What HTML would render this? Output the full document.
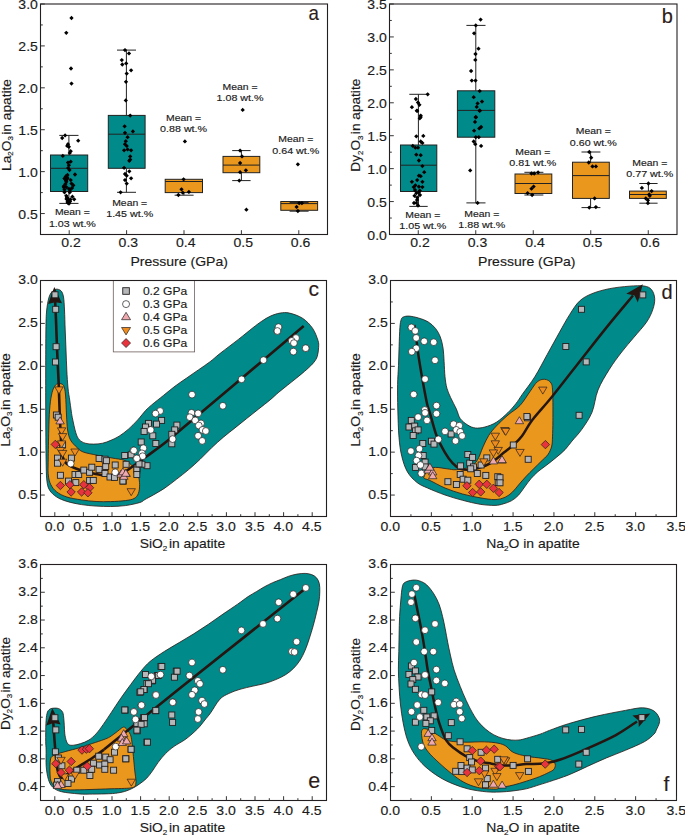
<!DOCTYPE html>
<html><head><meta charset="utf-8"><style>
html,body{margin:0;padding:0;background:#fff;}
svg{display:block;font-family:"Liberation Sans", sans-serif;}
text{stroke:#1a1a1a;stroke-width:0.15px;paint-order:stroke;}
</style></head><body>
<svg width="685" height="835" viewBox="0 0 685 835">
<rect width="685" height="835" fill="#fff"/>
<line x1="68.90" y1="135.40" x2="68.90" y2="155.00" stroke="#222" stroke-width="1"/>
<line x1="59.30" y1="135.40" x2="78.50" y2="135.40" stroke="#222" stroke-width="1"/>
<line x1="68.90" y1="191.50" x2="68.90" y2="203.40" stroke="#222" stroke-width="1"/>
<line x1="59.30" y1="203.40" x2="78.50" y2="203.40" stroke="#222" stroke-width="1"/>
<rect x="50.50" y="155.00" width="37.20" height="36.50" fill="#008a8a" stroke="#222" stroke-width="1"/>
<line x1="50.50" y1="168.30" x2="87.70" y2="168.30" stroke="#222" stroke-width="1"/>
<line x1="126.40" y1="50.10" x2="126.40" y2="115.40" stroke="#222" stroke-width="1"/>
<line x1="117.00" y1="50.10" x2="136.00" y2="50.10" stroke="#222" stroke-width="1"/>
<line x1="126.40" y1="168.30" x2="126.40" y2="192.30" stroke="#222" stroke-width="1"/>
<line x1="117.00" y1="192.30" x2="136.00" y2="192.30" stroke="#222" stroke-width="1"/>
<rect x="108.30" y="115.40" width="36.80" height="52.90" fill="#008a8a" stroke="#222" stroke-width="1"/>
<line x1="108.30" y1="134.20" x2="145.10" y2="134.20" stroke="#222" stroke-width="1"/>
<line x1="183.90" y1="192.60" x2="183.90" y2="195.20" stroke="#222" stroke-width="1"/>
<line x1="174.60" y1="195.20" x2="193.60" y2="195.20" stroke="#222" stroke-width="1"/>
<rect x="165.20" y="179.30" width="37.30" height="13.30" fill="#ea971d" stroke="#222" stroke-width="1"/>
<line x1="165.20" y1="181.50" x2="202.50" y2="181.50" stroke="#222" stroke-width="1"/>
<line x1="241.40" y1="150.60" x2="241.40" y2="156.40" stroke="#222" stroke-width="1"/>
<line x1="232.20" y1="150.60" x2="250.60" y2="150.60" stroke="#222" stroke-width="1"/>
<line x1="241.40" y1="172.70" x2="241.40" y2="180.60" stroke="#222" stroke-width="1"/>
<line x1="232.20" y1="180.60" x2="250.60" y2="180.60" stroke="#222" stroke-width="1"/>
<rect x="223.00" y="156.40" width="36.80" height="16.30" fill="#ea971d" stroke="#222" stroke-width="1"/>
<line x1="223.00" y1="165.10" x2="259.80" y2="165.10" stroke="#222" stroke-width="1"/>
<line x1="299.20" y1="210.30" x2="299.20" y2="211.20" stroke="#222" stroke-width="1"/>
<line x1="289.60" y1="211.20" x2="308.60" y2="211.20" stroke="#222" stroke-width="1"/>
<rect x="280.80" y="201.50" width="36.80" height="8.80" fill="#ea971d" stroke="#222" stroke-width="1"/>
<line x1="280.80" y1="203.60" x2="317.60" y2="203.60" stroke="#222" stroke-width="1"/>
<line x1="289.6" y1="202.6" x2="308.6" y2="202.6" stroke="#222" stroke-width="1"/>
<path d="M71.50 15.85L73.65 18.00L71.50 20.15L69.35 18.00Z" fill="#000"/>
<path d="M66.30 30.65L68.45 32.80L66.30 34.95L64.15 32.80Z" fill="#000"/>
<path d="M71.00 66.35L73.15 68.50L71.00 70.65L68.85 68.50Z" fill="#000"/>
<path d="M71.50 81.45L73.65 83.60L71.50 85.75L69.35 83.60Z" fill="#000"/>
<path d="M65.10 133.25L67.25 135.40L65.10 137.55L62.95 135.40Z" fill="#000"/>
<path d="M62.20 135.85L64.35 138.00L62.20 140.15L60.05 138.00Z" fill="#000"/>
<path d="M78.20 138.55L80.35 140.70L78.20 142.85L76.05 140.70Z" fill="#000"/>
<path d="M68.00 142.05L70.15 144.20L68.00 146.35L65.85 144.20Z" fill="#000"/>
<path d="M67.20 143.75L69.35 145.90L67.20 148.05L65.05 145.90Z" fill="#000"/>
<path d="M68.90 144.65L71.05 146.80L68.90 148.95L66.75 146.80Z" fill="#000"/>
<path d="M70.70 149.05L72.85 151.20L70.70 153.35L68.55 151.20Z" fill="#000"/>
<path d="M69.80 150.75L71.95 152.90L69.80 155.05L67.65 152.90Z" fill="#000"/>
<path d="M62.80 153.75L64.95 155.90L62.80 158.05L60.65 155.90Z" fill="#000"/>
<path d="M68.00 160.45L70.15 162.60L68.00 164.75L65.85 162.60Z" fill="#000"/>
<path d="M70.70 159.55L72.85 161.70L70.70 163.85L68.55 161.70Z" fill="#000"/>
<path d="M68.90 163.05L71.05 165.20L68.90 167.35L66.75 165.20Z" fill="#000"/>
<path d="M75.00 172.35L77.15 174.50L75.00 176.65L72.85 174.50Z" fill="#000"/>
<path d="M67.20 175.25L69.35 177.40L67.20 179.55L65.05 177.40Z" fill="#000"/>
<path d="M65.40 177.05L67.55 179.20L65.40 181.35L63.25 179.20Z" fill="#000"/>
<path d="M63.70 184.05L65.85 186.20L63.70 188.35L61.55 186.20Z" fill="#000"/>
<path d="M66.30 184.95L68.45 187.10L66.30 189.25L64.15 187.10Z" fill="#000"/>
<path d="M73.30 183.15L75.45 185.30L73.30 187.45L71.15 185.30Z" fill="#000"/>
<path d="M68.90 186.65L71.05 188.80L68.90 190.95L66.75 188.80Z" fill="#000"/>
<path d="M64.50 190.15L66.65 192.30L64.50 194.45L62.35 192.30Z" fill="#000"/>
<path d="M69.80 190.15L71.95 192.30L69.80 194.45L67.65 192.30Z" fill="#000"/>
<path d="M66.30 193.65L68.45 195.80L66.30 197.95L64.15 195.80Z" fill="#000"/>
<path d="M72.40 194.55L74.55 196.70L72.40 198.85L70.25 196.70Z" fill="#000"/>
<path d="M68.00 197.15L70.15 199.30L68.00 201.45L65.85 199.30Z" fill="#000"/>
<path d="M74.20 197.15L76.35 199.30L74.20 201.45L72.05 199.30Z" fill="#000"/>
<path d="M68.90 199.85L71.05 202.00L68.90 204.15L66.75 202.00Z" fill="#000"/>
<path d="M68.00 200.75L70.15 202.90L68.00 205.05L65.85 202.90Z" fill="#000"/>
<path d="M66.30 179.65L68.45 181.80L66.30 183.95L64.15 181.80Z" fill="#000"/>
<path d="M70.70 177.95L72.85 180.10L70.70 182.25L68.55 180.10Z" fill="#000"/>
<path d="M71.50 181.45L73.65 183.60L71.50 185.75L69.35 183.60Z" fill="#000"/>
<path d="M64.50 187.55L66.65 189.70L64.50 191.85L62.35 189.70Z" fill="#000"/>
<path d="M67.00 195.35L69.15 197.50L67.00 199.65L64.85 197.50Z" fill="#000"/>
<path d="M70.00 187.85L72.15 190.00L70.00 192.15L67.85 190.00Z" fill="#000"/>
<path d="M65.50 181.85L67.65 184.00L65.50 186.15L63.35 184.00Z" fill="#000"/>
<path d="M72.00 185.85L74.15 188.00L72.00 190.15L69.85 188.00Z" fill="#000"/>
<path d="M67.50 172.85L69.65 175.00L67.50 177.15L65.35 175.00Z" fill="#000"/>
<path d="M69.50 167.85L71.65 170.00L69.50 172.15L67.35 170.00Z" fill="#000"/>
<path d="M68.00 198.35L70.15 200.50L68.00 202.65L65.85 200.50Z" fill="#000"/>
<path d="M70.00 199.35L72.15 201.50L70.00 203.65L67.85 201.50Z" fill="#000"/>
<path d="M69.00 201.35L71.15 203.50L69.00 205.65L66.85 203.50Z" fill="#000"/>
<path d="M67.50 199.85L69.65 202.00L67.50 204.15L65.35 202.00Z" fill="#000"/>
<path d="M70.50 197.35L72.65 199.50L70.50 201.65L68.35 199.50Z" fill="#000"/>
<path d="M66.50 196.85L68.65 199.00L66.50 201.15L64.35 199.00Z" fill="#000"/>
<path d="M64.00 185.35L66.15 187.50L64.00 189.65L61.85 187.50Z" fill="#000"/>
<path d="M66.00 178.35L68.15 180.50L66.00 182.65L63.85 180.50Z" fill="#000"/>
<path d="M67.50 176.35L69.65 178.50L67.50 180.65L65.35 178.50Z" fill="#000"/>
<path d="M64.50 176.35L66.65 178.50L64.50 180.65L62.35 178.50Z" fill="#000"/>
<path d="M68.20 165.85L70.35 168.00L68.20 170.15L66.05 168.00Z" fill="#000"/>
<path d="M65.80 174.35L67.95 176.50L65.80 178.65L63.65 176.50Z" fill="#000"/>
<path d="M125.00 47.95L127.15 50.10L125.00 52.25L122.85 50.10Z" fill="#000"/>
<path d="M129.00 51.25L131.15 53.40L129.00 55.55L126.85 53.40Z" fill="#000"/>
<path d="M121.80 57.95L123.95 60.10L121.80 62.25L119.65 60.10Z" fill="#000"/>
<path d="M122.30 62.35L124.45 64.50L122.30 66.65L120.15 64.50Z" fill="#000"/>
<path d="M126.20 61.25L128.35 63.40L126.20 65.55L124.05 63.40Z" fill="#000"/>
<path d="M131.10 68.15L133.25 70.30L131.10 72.45L128.95 70.30Z" fill="#000"/>
<path d="M126.70 71.45L128.85 73.60L126.70 75.75L124.55 73.60Z" fill="#000"/>
<path d="M126.00 79.65L128.15 81.80L126.00 83.95L123.85 81.80Z" fill="#000"/>
<path d="M125.80 98.25L127.95 100.40L125.80 102.55L123.65 100.40Z" fill="#000"/>
<path d="M130.20 113.45L132.35 115.60L130.20 117.75L128.05 115.60Z" fill="#000"/>
<path d="M124.60 124.15L126.75 126.30L124.60 128.45L122.45 126.30Z" fill="#000"/>
<path d="M125.00 130.65L127.15 132.80L125.00 134.95L122.85 132.80Z" fill="#000"/>
<path d="M132.90 129.25L135.05 131.40L132.90 133.55L130.75 131.40Z" fill="#000"/>
<path d="M127.60 135.05L129.75 137.20L127.60 139.35L125.45 137.20Z" fill="#000"/>
<path d="M125.80 139.05L127.95 141.20L125.80 143.35L123.65 141.20Z" fill="#000"/>
<path d="M125.00 142.05L127.15 144.20L125.00 146.35L122.85 144.20Z" fill="#000"/>
<path d="M126.70 143.75L128.85 145.90L126.70 148.05L124.55 145.90Z" fill="#000"/>
<path d="M124.10 148.15L126.25 150.30L124.10 152.45L121.95 150.30Z" fill="#000"/>
<path d="M127.60 147.25L129.75 149.40L127.60 151.55L125.45 149.40Z" fill="#000"/>
<path d="M131.10 148.15L133.25 150.30L131.10 152.45L128.95 150.30Z" fill="#000"/>
<path d="M130.20 154.25L132.35 156.40L130.20 158.55L128.05 156.40Z" fill="#000"/>
<path d="M129.30 158.65L131.45 160.80L129.30 162.95L127.15 160.80Z" fill="#000"/>
<path d="M130.20 157.45L132.35 159.60L130.20 161.75L128.05 159.60Z" fill="#000"/>
<path d="M124.10 165.65L126.25 167.80L124.10 169.95L121.95 167.80Z" fill="#000"/>
<path d="M129.30 169.15L131.45 171.30L129.30 173.45L127.15 171.30Z" fill="#000"/>
<path d="M125.00 171.85L127.15 174.00L125.00 176.15L122.85 174.00Z" fill="#000"/>
<path d="M126.70 173.55L128.85 175.70L126.70 177.85L124.55 175.70Z" fill="#000"/>
<path d="M131.10 176.15L133.25 178.30L131.10 180.45L128.95 178.30Z" fill="#000"/>
<path d="M125.00 177.95L127.15 180.10L125.00 182.25L122.85 180.10Z" fill="#000"/>
<path d="M126.70 181.45L128.85 183.60L126.70 185.75L124.55 183.60Z" fill="#000"/>
<path d="M120.60 190.15L122.75 192.30L120.60 194.45L118.45 192.30Z" fill="#000"/>
<path d="M184.90 139.25L187.05 141.40L184.90 143.55L182.75 141.40Z" fill="#000"/>
<path d="M183.60 177.15L185.75 179.30L183.60 181.45L181.45 179.30Z" fill="#000"/>
<path d="M181.50 187.15L183.65 189.30L181.50 191.45L179.35 189.30Z" fill="#000"/>
<path d="M182.80 190.55L184.95 192.70L182.80 194.85L180.65 192.70Z" fill="#000"/>
<path d="M188.90 189.75L191.05 191.90L188.90 194.05L186.75 191.90Z" fill="#000"/>
<path d="M178.40 192.85L180.55 195.00L178.40 197.15L176.25 195.00Z" fill="#000"/>
<path d="M242.70 107.75L244.85 109.90L242.70 112.05L240.55 109.90Z" fill="#000"/>
<path d="M246.40 207.55L248.55 209.70L246.40 211.85L244.25 209.70Z" fill="#000"/>
<path d="M240.10 148.45L242.25 150.60L240.10 152.75L237.95 150.60Z" fill="#000"/>
<path d="M242.00 154.25L244.15 156.40L242.00 158.55L239.85 156.40Z" fill="#000"/>
<path d="M240.10 160.85L242.25 163.00L240.10 165.15L237.95 163.00Z" fill="#000"/>
<path d="M240.10 170.05L242.25 172.20L240.10 174.35L237.95 172.20Z" fill="#000"/>
<path d="M245.90 168.15L248.05 170.30L245.90 172.45L243.75 170.30Z" fill="#000"/>
<path d="M239.30 178.45L241.45 180.60L239.30 182.75L237.15 180.60Z" fill="#000"/>
<path d="M297.90 162.15L300.05 164.30L297.90 166.45L295.75 164.30Z" fill="#000"/>
<path d="M299.20 201.05L301.35 203.20L299.20 205.35L297.05 203.20Z" fill="#000"/>
<path d="M301.90 201.05L304.05 203.20L301.90 205.35L299.75 203.20Z" fill="#000"/>
<path d="M296.60 204.75L298.75 206.90L296.60 209.05L294.45 206.90Z" fill="#000"/>
<path d="M297.90 208.85L300.05 211.00L297.90 213.15L295.75 211.00Z" fill="#000"/>
<text x="72.40" y="215.40" font-size="9.3" text-anchor="middle" fill="#1a1a1a" textLength="35.0" lengthAdjust="spacingAndGlyphs" >Mean =</text>
<text x="72.40" y="226.80" font-size="9.3" text-anchor="middle" fill="#1a1a1a" textLength="47.0" lengthAdjust="spacingAndGlyphs" >1.03 wt.%</text>
<text x="129.70" y="205.60" font-size="9.3" text-anchor="middle" fill="#1a1a1a" textLength="35.0" lengthAdjust="spacingAndGlyphs" >Mean =</text>
<text x="129.70" y="217.00" font-size="9.3" text-anchor="middle" fill="#1a1a1a" textLength="47.0" lengthAdjust="spacingAndGlyphs" >1.45 wt.%</text>
<text x="183.60" y="121.10" font-size="9.3" text-anchor="middle" fill="#1a1a1a" textLength="35.0" lengthAdjust="spacingAndGlyphs" >Mean =</text>
<text x="183.60" y="132.10" font-size="9.3" text-anchor="middle" fill="#1a1a1a" textLength="47.0" lengthAdjust="spacingAndGlyphs" >0.88 wt.%</text>
<text x="240.00" y="90.10" font-size="9.3" text-anchor="middle" fill="#1a1a1a" textLength="35.0" lengthAdjust="spacingAndGlyphs" >Mean =</text>
<text x="240.00" y="101.40" font-size="9.3" text-anchor="middle" fill="#1a1a1a" textLength="47.0" lengthAdjust="spacingAndGlyphs" >1.08 wt.%</text>
<text x="295.80" y="142.10" font-size="9.3" text-anchor="middle" fill="#1a1a1a" textLength="35.0" lengthAdjust="spacingAndGlyphs" >Mean =</text>
<text x="295.80" y="153.70" font-size="9.3" text-anchor="middle" fill="#1a1a1a" textLength="47.0" lengthAdjust="spacingAndGlyphs" >0.64 wt.%</text>
<rect x="40.5" y="4.0" width="287.00" height="230.50" fill="none" stroke="#231f20" stroke-width="1.1"/>
<line x1="40.5" y1="213.55" x2="44.80" y2="213.55" stroke="#2a2a2a" stroke-width="0.95"/>
<text x="37.90" y="218.90" font-size="13" text-anchor="end" fill="#1a1a1a" textLength="19.52" lengthAdjust="spacingAndGlyphs" >0.5</text>
<line x1="40.5" y1="171.64" x2="44.80" y2="171.64" stroke="#2a2a2a" stroke-width="0.95"/>
<text x="37.90" y="176.99" font-size="13" text-anchor="end" fill="#1a1a1a" textLength="19.52" lengthAdjust="spacingAndGlyphs" >1.0</text>
<line x1="40.5" y1="129.73" x2="44.80" y2="129.73" stroke="#2a2a2a" stroke-width="0.95"/>
<text x="37.90" y="135.08" font-size="13" text-anchor="end" fill="#1a1a1a" textLength="19.52" lengthAdjust="spacingAndGlyphs" >1.5</text>
<line x1="40.5" y1="87.82" x2="44.80" y2="87.82" stroke="#2a2a2a" stroke-width="0.95"/>
<text x="37.90" y="93.17" font-size="13" text-anchor="end" fill="#1a1a1a" textLength="19.52" lengthAdjust="spacingAndGlyphs" >2.0</text>
<line x1="40.5" y1="45.91" x2="44.80" y2="45.91" stroke="#2a2a2a" stroke-width="0.95"/>
<text x="37.90" y="51.26" font-size="13" text-anchor="end" fill="#1a1a1a" textLength="19.52" lengthAdjust="spacingAndGlyphs" >2.5</text>
<line x1="40.5" y1="4.00" x2="44.80" y2="4.00" stroke="#2a2a2a" stroke-width="0.95"/>
<text x="37.90" y="9.35" font-size="13" text-anchor="end" fill="#1a1a1a" textLength="19.52" lengthAdjust="spacingAndGlyphs" >3.0</text>
<line x1="40.5" y1="192.59" x2="42.80" y2="192.59" stroke="#2a2a2a" stroke-width="0.95"/>
<line x1="40.5" y1="150.68" x2="42.80" y2="150.68" stroke="#2a2a2a" stroke-width="0.95"/>
<line x1="40.5" y1="108.77" x2="42.80" y2="108.77" stroke="#2a2a2a" stroke-width="0.95"/>
<line x1="40.5" y1="66.86" x2="42.80" y2="66.86" stroke="#2a2a2a" stroke-width="0.95"/>
<line x1="40.5" y1="24.95" x2="42.80" y2="24.95" stroke="#2a2a2a" stroke-width="0.95"/>
<line x1="69.20" y1="234.5" x2="69.20" y2="230.20" stroke="#2a2a2a" stroke-width="0.95"/>
<text x="71.00" y="247.30" font-size="13" text-anchor="middle" fill="#1a1a1a" textLength="19.52" lengthAdjust="spacingAndGlyphs" >0.2</text>
<line x1="126.60" y1="234.5" x2="126.60" y2="230.20" stroke="#2a2a2a" stroke-width="0.95"/>
<text x="128.40" y="247.30" font-size="13" text-anchor="middle" fill="#1a1a1a" textLength="19.52" lengthAdjust="spacingAndGlyphs" >0.3</text>
<line x1="184.00" y1="234.5" x2="184.00" y2="230.20" stroke="#2a2a2a" stroke-width="0.95"/>
<text x="185.80" y="247.30" font-size="13" text-anchor="middle" fill="#1a1a1a" textLength="19.52" lengthAdjust="spacingAndGlyphs" >0.4</text>
<line x1="241.40" y1="234.5" x2="241.40" y2="230.20" stroke="#2a2a2a" stroke-width="0.95"/>
<text x="243.20" y="247.30" font-size="13" text-anchor="middle" fill="#1a1a1a" textLength="19.52" lengthAdjust="spacingAndGlyphs" >0.5</text>
<line x1="298.80" y1="234.5" x2="298.80" y2="230.20" stroke="#2a2a2a" stroke-width="0.95"/>
<text x="300.60" y="247.30" font-size="13" text-anchor="middle" fill="#1a1a1a" textLength="19.52" lengthAdjust="spacingAndGlyphs" >0.6</text>
<text transform="translate(10.50,125.00) rotate(-90)" font-size="13" text-anchor="middle" fill="#1a1a1a" textLength="92" lengthAdjust="spacingAndGlyphs">La<tspan font-size="7.54" dy="2.6">2</tspan><tspan dy="-2.6">O</tspan><tspan font-size="7.54" dy="2.6">3</tspan><tspan dy="-2.6" dx="1.3">in apatite</tspan></text>
<text x="179.20" y="266.00" font-size="13" text-anchor="middle" fill="#1a1a1a" textLength="97.5" lengthAdjust="spacingAndGlyphs" >Pressure (GPa)</text>
<text x="313.80" y="20.20" font-size="21" text-anchor="middle" fill="#2e1c19" textLength="10.4" lengthAdjust="spacingAndGlyphs" >a</text>
<line x1="418.40" y1="94.30" x2="418.40" y2="145.00" stroke="#222" stroke-width="1"/>
<line x1="409.30" y1="94.30" x2="427.70" y2="94.30" stroke="#222" stroke-width="1"/>
<line x1="418.40" y1="191.50" x2="418.40" y2="206.40" stroke="#222" stroke-width="1"/>
<line x1="409.30" y1="206.40" x2="427.70" y2="206.40" stroke="#222" stroke-width="1"/>
<rect x="400.50" y="145.00" width="36.30" height="46.50" fill="#008a8a" stroke="#222" stroke-width="1"/>
<line x1="400.50" y1="165.20" x2="436.80" y2="165.20" stroke="#222" stroke-width="1"/>
<line x1="475.80" y1="25.40" x2="475.80" y2="90.80" stroke="#222" stroke-width="1"/>
<line x1="466.40" y1="25.40" x2="485.50" y2="25.40" stroke="#222" stroke-width="1"/>
<line x1="475.80" y1="137.20" x2="475.80" y2="202.90" stroke="#222" stroke-width="1"/>
<line x1="466.40" y1="202.90" x2="485.50" y2="202.90" stroke="#222" stroke-width="1"/>
<rect x="457.40" y="90.80" width="37.40" height="46.40" fill="#008a8a" stroke="#222" stroke-width="1"/>
<line x1="457.40" y1="110.40" x2="494.80" y2="110.40" stroke="#222" stroke-width="1"/>
<line x1="533.50" y1="172.30" x2="533.50" y2="174.00" stroke="#222" stroke-width="1"/>
<line x1="524.40" y1="172.30" x2="543.40" y2="172.30" stroke="#222" stroke-width="1"/>
<line x1="533.50" y1="193.50" x2="533.50" y2="195.00" stroke="#222" stroke-width="1"/>
<line x1="524.40" y1="195.00" x2="543.40" y2="195.00" stroke="#222" stroke-width="1"/>
<rect x="515.00" y="174.00" width="36.80" height="19.50" fill="#ea971d" stroke="#222" stroke-width="1"/>
<line x1="515.00" y1="183.50" x2="551.80" y2="183.50" stroke="#222" stroke-width="1"/>
<line x1="590.60" y1="152.00" x2="590.60" y2="162.20" stroke="#222" stroke-width="1"/>
<line x1="581.50" y1="152.00" x2="600.40" y2="152.00" stroke="#222" stroke-width="1"/>
<line x1="590.60" y1="198.40" x2="590.60" y2="207.60" stroke="#222" stroke-width="1"/>
<line x1="581.50" y1="207.60" x2="600.40" y2="207.60" stroke="#222" stroke-width="1"/>
<rect x="572.50" y="162.20" width="36.80" height="36.20" fill="#ea971d" stroke="#222" stroke-width="1"/>
<line x1="572.50" y1="175.60" x2="609.30" y2="175.60" stroke="#222" stroke-width="1"/>
<line x1="648.40" y1="183.50" x2="648.40" y2="191.10" stroke="#222" stroke-width="1"/>
<line x1="639.30" y1="183.50" x2="657.60" y2="183.50" stroke="#222" stroke-width="1"/>
<line x1="648.40" y1="198.40" x2="648.40" y2="203.20" stroke="#222" stroke-width="1"/>
<line x1="639.30" y1="203.20" x2="657.60" y2="203.20" stroke="#222" stroke-width="1"/>
<rect x="629.50" y="191.10" width="36.80" height="7.30" fill="#ea971d" stroke="#222" stroke-width="1"/>
<line x1="629.50" y1="194.50" x2="666.30" y2="194.50" stroke="#222" stroke-width="1"/>
<path d="M427.70 92.15L429.85 94.30L427.70 96.45L425.55 94.30Z" fill="#000"/>
<path d="M415.90 96.85L418.05 99.00L415.90 101.15L413.75 99.00Z" fill="#000"/>
<path d="M418.00 100.35L420.15 102.50L418.00 104.65L415.85 102.50Z" fill="#000"/>
<path d="M419.40 102.65L421.55 104.80L419.40 106.95L417.25 104.80Z" fill="#000"/>
<path d="M411.90 105.05L414.05 107.20L411.90 109.35L409.75 107.20Z" fill="#000"/>
<path d="M416.80 108.55L418.95 110.70L416.80 112.85L414.65 110.70Z" fill="#000"/>
<path d="M420.70 113.45L422.85 115.60L420.70 117.75L418.55 115.60Z" fill="#000"/>
<path d="M419.80 116.15L421.95 118.30L419.80 120.45L417.65 118.30Z" fill="#000"/>
<path d="M417.20 108.75L419.35 110.90L417.20 113.05L415.05 110.90Z" fill="#000"/>
<path d="M420.70 114.85L422.85 117.00L420.70 119.15L418.55 117.00Z" fill="#000"/>
<path d="M416.30 134.15L418.45 136.30L416.30 138.45L414.15 136.30Z" fill="#000"/>
<path d="M423.30 133.75L425.45 135.90L423.30 138.05L421.15 135.90Z" fill="#000"/>
<path d="M420.70 139.35L422.85 141.50L420.70 143.65L418.55 141.50Z" fill="#000"/>
<path d="M422.40 140.75L424.55 142.90L422.40 145.05L420.25 142.90Z" fill="#000"/>
<path d="M412.80 143.75L414.95 145.90L412.80 148.05L410.65 145.90Z" fill="#000"/>
<path d="M415.40 145.55L417.55 147.70L415.40 149.85L413.25 147.70Z" fill="#000"/>
<path d="M418.00 145.55L420.15 147.70L418.00 149.85L415.85 147.70Z" fill="#000"/>
<path d="M416.30 152.55L418.45 154.70L416.30 156.85L414.15 154.70Z" fill="#000"/>
<path d="M420.70 153.05L422.85 155.20L420.70 157.35L418.55 155.20Z" fill="#000"/>
<path d="M418.90 158.35L421.05 160.50L418.90 162.65L416.75 160.50Z" fill="#000"/>
<path d="M422.40 163.95L424.55 166.10L422.40 168.25L420.25 166.10Z" fill="#000"/>
<path d="M424.20 170.05L426.35 172.20L424.20 174.35L422.05 172.20Z" fill="#000"/>
<path d="M418.90 173.55L421.05 175.70L418.90 177.85L416.75 175.70Z" fill="#000"/>
<path d="M420.70 174.05L422.85 176.20L420.70 178.35L418.55 176.20Z" fill="#000"/>
<path d="M417.20 177.95L419.35 180.10L417.20 182.25L415.05 180.10Z" fill="#000"/>
<path d="M411.90 179.65L414.05 181.80L411.90 183.95L409.75 181.80Z" fill="#000"/>
<path d="M422.40 179.65L424.55 181.80L422.40 183.95L420.25 181.80Z" fill="#000"/>
<path d="M415.40 183.15L417.55 185.30L415.40 187.45L413.25 185.30Z" fill="#000"/>
<path d="M418.90 184.55L421.05 186.70L418.90 188.85L416.75 186.70Z" fill="#000"/>
<path d="M422.40 184.95L424.55 187.10L422.40 189.25L420.25 187.10Z" fill="#000"/>
<path d="M413.70 184.95L415.85 187.10L413.70 189.25L411.55 187.10Z" fill="#000"/>
<path d="M416.30 191.05L418.45 193.20L416.30 195.35L414.15 193.20Z" fill="#000"/>
<path d="M418.90 190.15L421.05 192.30L418.90 194.45L416.75 192.30Z" fill="#000"/>
<path d="M414.50 193.65L416.65 195.80L414.50 197.95L412.35 195.80Z" fill="#000"/>
<path d="M417.20 195.45L419.35 197.60L417.20 199.75L415.05 197.60Z" fill="#000"/>
<path d="M416.30 200.75L418.45 202.90L416.30 205.05L414.15 202.90Z" fill="#000"/>
<path d="M418.00 203.35L420.15 205.50L418.00 207.65L415.85 205.50Z" fill="#000"/>
<path d="M419.80 188.45L421.95 190.60L419.80 192.75L417.65 190.60Z" fill="#000"/>
<path d="M415.00 187.85L417.15 190.00L415.00 192.15L412.85 190.00Z" fill="#000"/>
<path d="M420.00 192.85L422.15 195.00L420.00 197.15L417.85 195.00Z" fill="#000"/>
<path d="M417.00 197.85L419.15 200.00L417.00 202.15L414.85 200.00Z" fill="#000"/>
<path d="M414.00 200.85L416.15 203.00L414.00 205.15L411.85 203.00Z" fill="#000"/>
<path d="M480.60 17.45L482.75 19.60L480.60 21.75L478.45 19.60Z" fill="#000"/>
<path d="M475.80 23.25L477.95 25.40L475.80 27.55L473.65 25.40Z" fill="#000"/>
<path d="M474.10 31.15L476.25 33.30L474.10 35.45L471.95 33.30Z" fill="#000"/>
<path d="M478.50 46.55L480.65 48.70L478.50 50.85L476.35 48.70Z" fill="#000"/>
<path d="M475.50 51.85L477.65 54.00L475.50 56.15L473.35 54.00Z" fill="#000"/>
<path d="M475.30 57.75L477.45 59.90L475.30 62.05L473.15 59.90Z" fill="#000"/>
<path d="M471.10 68.85L473.25 71.00L471.10 73.15L468.95 71.00Z" fill="#000"/>
<path d="M471.80 78.45L473.95 80.60L471.80 82.75L469.65 80.60Z" fill="#000"/>
<path d="M475.50 78.45L477.65 80.60L475.50 82.75L473.35 80.60Z" fill="#000"/>
<path d="M479.70 88.95L481.85 91.10L479.70 93.25L477.55 91.10Z" fill="#000"/>
<path d="M473.70 95.05L475.85 97.20L473.70 99.35L471.55 97.20Z" fill="#000"/>
<path d="M482.00 99.45L484.15 101.60L482.00 103.75L479.85 101.60Z" fill="#000"/>
<path d="M477.60 101.25L479.75 103.40L477.60 105.55L475.45 103.40Z" fill="#000"/>
<path d="M476.70 104.75L478.85 106.90L476.70 109.05L474.55 106.90Z" fill="#000"/>
<path d="M479.70 108.25L481.85 110.40L479.70 112.55L477.55 110.40Z" fill="#000"/>
<path d="M475.80 114.85L477.95 117.00L475.80 119.15L473.65 117.00Z" fill="#000"/>
<path d="M479.70 108.75L481.85 110.90L479.70 113.05L477.55 110.90Z" fill="#000"/>
<path d="M475.80 115.25L477.95 117.40L475.80 119.55L473.65 117.40Z" fill="#000"/>
<path d="M475.00 119.75L477.15 121.90L475.00 124.05L472.85 121.90Z" fill="#000"/>
<path d="M474.10 128.55L476.25 130.70L474.10 132.85L471.95 130.70Z" fill="#000"/>
<path d="M479.30 126.25L481.45 128.40L479.30 130.55L477.15 128.40Z" fill="#000"/>
<path d="M481.10 124.85L483.25 127.00L481.10 129.15L478.95 127.00Z" fill="#000"/>
<path d="M475.80 135.05L477.95 137.20L475.80 139.35L473.65 137.20Z" fill="#000"/>
<path d="M478.80 135.05L480.95 137.20L478.80 139.35L476.65 137.20Z" fill="#000"/>
<path d="M473.70 139.35L475.85 141.50L473.70 143.65L471.55 141.50Z" fill="#000"/>
<path d="M475.30 142.05L477.45 144.20L475.30 146.35L473.15 144.20Z" fill="#000"/>
<path d="M481.10 143.75L483.25 145.90L481.10 148.05L478.95 145.90Z" fill="#000"/>
<path d="M470.20 168.25L472.35 170.40L470.20 172.55L468.05 170.40Z" fill="#000"/>
<path d="M477.60 200.75L479.75 202.90L477.60 205.05L475.45 202.90Z" fill="#000"/>
<path d="M531.50 171.35L533.65 173.50L531.50 175.65L529.35 173.50Z" fill="#000"/>
<path d="M534.20 171.35L536.35 173.50L534.20 175.65L532.05 173.50Z" fill="#000"/>
<path d="M538.10 170.25L540.25 172.40L538.10 174.55L535.95 172.40Z" fill="#000"/>
<path d="M533.60 184.45L535.75 186.60L533.60 188.75L531.45 186.60Z" fill="#000"/>
<path d="M531.50 186.55L533.65 188.70L531.50 190.85L529.35 188.70Z" fill="#000"/>
<path d="M527.60 191.05L529.75 193.20L527.60 195.35L525.45 193.20Z" fill="#000"/>
<path d="M532.10 192.85L534.25 195.00L532.10 197.15L529.95 195.00Z" fill="#000"/>
<path d="M589.30 149.85L591.45 152.00L589.30 154.15L587.15 152.00Z" fill="#000"/>
<path d="M591.20 155.55L593.35 157.70L591.20 159.85L589.05 157.70Z" fill="#000"/>
<path d="M588.80 160.35L590.95 162.50L588.80 164.65L586.65 162.50Z" fill="#000"/>
<path d="M592.50 164.25L594.65 166.40L592.50 168.55L590.35 166.40Z" fill="#000"/>
<path d="M595.90 164.25L598.05 166.40L595.90 168.55L593.75 166.40Z" fill="#000"/>
<path d="M594.60 196.25L596.75 198.40L594.60 200.55L592.45 198.40Z" fill="#000"/>
<path d="M589.30 205.45L591.45 207.60L589.30 209.75L587.15 207.60Z" fill="#000"/>
<path d="M595.90 204.95L598.05 207.10L595.90 209.25L593.75 207.10Z" fill="#000"/>
<path d="M648.40 181.35L650.55 183.50L648.40 185.65L646.25 183.50Z" fill="#000"/>
<path d="M641.90 185.75L644.05 187.90L641.90 190.05L639.75 187.90Z" fill="#000"/>
<path d="M651.60 188.95L653.75 191.10L651.60 193.25L649.45 191.10Z" fill="#000"/>
<path d="M649.20 192.35L651.35 194.50L649.20 196.65L647.05 194.50Z" fill="#000"/>
<path d="M645.80 196.25L647.95 198.40L645.80 200.55L643.65 198.40Z" fill="#000"/>
<path d="M647.90 198.15L650.05 200.30L647.90 202.45L645.75 200.30Z" fill="#000"/>
<path d="M647.90 201.05L650.05 203.20L647.90 205.35L645.75 203.20Z" fill="#000"/>
<path d="M649.80 193.65L651.95 195.80L649.80 197.95L647.65 195.80Z" fill="#000"/>
<text x="422.80" y="218.10" font-size="9.3" text-anchor="middle" fill="#1a1a1a" textLength="35.0" lengthAdjust="spacingAndGlyphs" >Mean =</text>
<text x="422.80" y="228.90" font-size="9.3" text-anchor="middle" fill="#1a1a1a" textLength="47.0" lengthAdjust="spacingAndGlyphs" >1.05 wt.%</text>
<text x="481.80" y="217.30" font-size="9.3" text-anchor="middle" fill="#1a1a1a" textLength="35.0" lengthAdjust="spacingAndGlyphs" >Mean =</text>
<text x="481.80" y="228.30" font-size="9.3" text-anchor="middle" fill="#1a1a1a" textLength="47.0" lengthAdjust="spacingAndGlyphs" >1.88 wt.%</text>
<text x="532.80" y="154.50" font-size="9.3" text-anchor="middle" fill="#1a1a1a" textLength="35.0" lengthAdjust="spacingAndGlyphs" >Mean =</text>
<text x="532.80" y="166.30" font-size="9.3" text-anchor="middle" fill="#1a1a1a" textLength="47.0" lengthAdjust="spacingAndGlyphs" >0.81 wt.%</text>
<text x="593.30" y="134.20" font-size="9.3" text-anchor="middle" fill="#1a1a1a" textLength="35.0" lengthAdjust="spacingAndGlyphs" >Mean =</text>
<text x="593.30" y="145.80" font-size="9.3" text-anchor="middle" fill="#1a1a1a" textLength="47.0" lengthAdjust="spacingAndGlyphs" >0.60 wt.%</text>
<text x="649.80" y="165.80" font-size="9.3" text-anchor="middle" fill="#1a1a1a" textLength="35.0" lengthAdjust="spacingAndGlyphs" >Mean =</text>
<text x="649.80" y="176.80" font-size="9.3" text-anchor="middle" fill="#1a1a1a" textLength="47.0" lengthAdjust="spacingAndGlyphs" >0.77 wt.%</text>
<rect x="389.5" y="4.0" width="287.50" height="230.50" fill="none" stroke="#231f20" stroke-width="1.1"/>
<line x1="389.5" y1="234.50" x2="393.80" y2="234.50" stroke="#2a2a2a" stroke-width="0.95"/>
<text x="386.90" y="239.85" font-size="13" text-anchor="end" fill="#1a1a1a" textLength="19.52" lengthAdjust="spacingAndGlyphs" >0.0</text>
<line x1="389.5" y1="201.57" x2="393.80" y2="201.57" stroke="#2a2a2a" stroke-width="0.95"/>
<text x="386.90" y="206.92" font-size="13" text-anchor="end" fill="#1a1a1a" textLength="19.52" lengthAdjust="spacingAndGlyphs" >0.5</text>
<line x1="389.5" y1="168.64" x2="393.80" y2="168.64" stroke="#2a2a2a" stroke-width="0.95"/>
<text x="386.90" y="173.99" font-size="13" text-anchor="end" fill="#1a1a1a" textLength="19.52" lengthAdjust="spacingAndGlyphs" >1.0</text>
<line x1="389.5" y1="135.71" x2="393.80" y2="135.71" stroke="#2a2a2a" stroke-width="0.95"/>
<text x="386.90" y="141.06" font-size="13" text-anchor="end" fill="#1a1a1a" textLength="19.52" lengthAdjust="spacingAndGlyphs" >1.5</text>
<line x1="389.5" y1="102.79" x2="393.80" y2="102.79" stroke="#2a2a2a" stroke-width="0.95"/>
<text x="386.90" y="108.14" font-size="13" text-anchor="end" fill="#1a1a1a" textLength="19.52" lengthAdjust="spacingAndGlyphs" >2.0</text>
<line x1="389.5" y1="69.86" x2="393.80" y2="69.86" stroke="#2a2a2a" stroke-width="0.95"/>
<text x="386.90" y="75.21" font-size="13" text-anchor="end" fill="#1a1a1a" textLength="19.52" lengthAdjust="spacingAndGlyphs" >2.5</text>
<line x1="389.5" y1="36.93" x2="393.80" y2="36.93" stroke="#2a2a2a" stroke-width="0.95"/>
<text x="386.90" y="42.28" font-size="13" text-anchor="end" fill="#1a1a1a" textLength="19.52" lengthAdjust="spacingAndGlyphs" >3.0</text>
<line x1="389.5" y1="4.00" x2="393.80" y2="4.00" stroke="#2a2a2a" stroke-width="0.95"/>
<text x="386.90" y="9.35" font-size="13" text-anchor="end" fill="#1a1a1a" textLength="19.52" lengthAdjust="spacingAndGlyphs" >3.5</text>
<line x1="389.5" y1="218.04" x2="391.80" y2="218.04" stroke="#2a2a2a" stroke-width="0.95"/>
<line x1="389.5" y1="185.11" x2="391.80" y2="185.11" stroke="#2a2a2a" stroke-width="0.95"/>
<line x1="389.5" y1="152.18" x2="391.80" y2="152.18" stroke="#2a2a2a" stroke-width="0.95"/>
<line x1="389.5" y1="119.25" x2="391.80" y2="119.25" stroke="#2a2a2a" stroke-width="0.95"/>
<line x1="389.5" y1="86.32" x2="391.80" y2="86.32" stroke="#2a2a2a" stroke-width="0.95"/>
<line x1="389.5" y1="53.39" x2="391.80" y2="53.39" stroke="#2a2a2a" stroke-width="0.95"/>
<line x1="389.5" y1="20.46" x2="391.80" y2="20.46" stroke="#2a2a2a" stroke-width="0.95"/>
<line x1="418.25" y1="234.5" x2="418.25" y2="230.20" stroke="#2a2a2a" stroke-width="0.95"/>
<text x="420.05" y="247.30" font-size="13" text-anchor="middle" fill="#1a1a1a" textLength="19.52" lengthAdjust="spacingAndGlyphs" >0.2</text>
<line x1="475.75" y1="234.5" x2="475.75" y2="230.20" stroke="#2a2a2a" stroke-width="0.95"/>
<text x="477.55" y="247.30" font-size="13" text-anchor="middle" fill="#1a1a1a" textLength="19.52" lengthAdjust="spacingAndGlyphs" >0.3</text>
<line x1="533.25" y1="234.5" x2="533.25" y2="230.20" stroke="#2a2a2a" stroke-width="0.95"/>
<text x="535.05" y="247.30" font-size="13" text-anchor="middle" fill="#1a1a1a" textLength="19.52" lengthAdjust="spacingAndGlyphs" >0.4</text>
<line x1="590.75" y1="234.5" x2="590.75" y2="230.20" stroke="#2a2a2a" stroke-width="0.95"/>
<text x="592.55" y="247.30" font-size="13" text-anchor="middle" fill="#1a1a1a" textLength="19.52" lengthAdjust="spacingAndGlyphs" >0.5</text>
<line x1="648.25" y1="234.5" x2="648.25" y2="230.20" stroke="#2a2a2a" stroke-width="0.95"/>
<text x="650.05" y="247.30" font-size="13" text-anchor="middle" fill="#1a1a1a" textLength="19.52" lengthAdjust="spacingAndGlyphs" >0.6</text>
<text transform="translate(360.30,125.20) rotate(-90)" font-size="13" text-anchor="middle" fill="#1a1a1a" textLength="93" lengthAdjust="spacingAndGlyphs">Dy<tspan font-size="7.54" dy="2.6">2</tspan><tspan dy="-2.6">O</tspan><tspan font-size="7.54" dy="2.6">3</tspan><tspan dy="-2.6" dx="1.3">in apatite</tspan></text>
<text x="526.80" y="266.00" font-size="13" text-anchor="middle" fill="#1a1a1a" textLength="97.5" lengthAdjust="spacingAndGlyphs" >Pressure (GPa)</text>
<text x="667.20" y="23.20" font-size="20" text-anchor="middle" fill="#2e1c19" >b</text>
<path d="M56.00,289.20 C57.53,289.00 59.75,289.50 61.00,290.80 C62.25,292.10 62.92,293.80 63.50,297.00 C64.08,300.20 64.22,304.50 64.50,310.00 C64.78,315.50 64.95,323.33 65.20,330.00 C65.45,336.67 65.73,343.33 66.00,350.00 C66.27,356.67 66.47,363.67 66.80,370.00 C67.13,376.33 67.52,383.00 68.00,388.00 C68.48,393.00 69.18,396.33 69.70,400.00 C70.22,403.67 70.67,407.08 71.10,410.00 C71.53,412.92 71.52,413.72 72.30,417.50 C73.08,421.28 74.63,429.00 75.80,432.70 C76.97,436.40 77.73,437.95 79.30,439.70 C80.87,441.45 82.85,442.47 85.20,443.20 C87.55,443.93 90.48,444.10 93.40,444.10 C96.32,444.10 99.78,443.83 102.70,443.20 C105.62,442.57 108.17,441.47 110.90,440.30 C113.63,439.13 116.18,438.05 119.10,436.20 C122.02,434.35 125.30,431.92 128.40,429.20 C131.50,426.48 134.80,423.05 137.70,419.90 C140.60,416.75 143.47,412.80 145.80,410.30 C148.13,407.80 148.77,407.37 151.70,404.90 C154.63,402.43 159.52,398.62 163.40,395.50 C167.28,392.38 171.12,389.12 175.00,386.20 C178.88,383.28 182.80,380.72 186.70,378.00 C190.60,375.28 194.50,372.62 198.40,369.90 C202.30,367.18 206.50,364.43 210.10,361.70 C213.70,358.97 215.28,357.22 220.00,353.50 C224.72,349.78 232.90,343.70 238.40,339.40 C243.90,335.10 249.10,330.73 253.00,327.70 C256.90,324.67 258.88,323.13 261.80,321.20 C264.72,319.27 267.47,317.45 270.50,316.10 C273.53,314.75 276.83,313.60 280.00,313.10 C283.17,312.60 285.73,312.23 289.50,313.10 C293.27,313.97 298.77,315.78 302.60,318.30 C306.43,320.82 309.93,324.50 312.50,328.20 C315.07,331.90 316.98,337.28 318.00,340.50 C319.02,343.72 318.72,344.87 318.60,347.50 C318.48,350.13 318.10,353.82 317.30,356.30 C316.50,358.78 315.55,360.22 313.80,362.40 C312.05,364.58 309.72,366.77 306.80,369.40 C303.88,372.03 299.52,375.57 296.30,378.20 C293.08,380.83 290.42,382.87 287.50,385.20 C284.58,387.53 281.70,389.75 278.80,392.20 C275.90,394.65 273.50,397.07 270.10,399.90 C266.70,402.73 262.30,406.10 258.40,409.20 C254.50,412.30 250.60,415.38 246.70,418.50 C242.80,421.62 238.88,424.78 235.00,427.90 C231.12,431.02 227.28,433.90 223.40,437.20 C219.52,440.50 215.58,444.02 211.70,447.70 C207.82,451.38 203.98,455.62 200.10,459.30 C196.22,462.98 192.30,466.50 188.40,469.80 C184.50,473.10 180.60,476.08 176.70,479.10 C172.80,482.12 168.88,485.27 165.00,487.90 C161.12,490.53 156.73,492.97 153.40,494.90 C150.07,496.83 147.25,498.23 145.00,499.50 C142.75,500.77 143.18,501.48 139.90,502.50 C136.62,503.52 130.17,504.93 125.30,505.60 C120.43,506.27 115.57,506.42 110.70,506.50 C105.83,506.58 100.97,506.42 96.10,506.10 C91.23,505.78 86.37,505.38 81.50,504.60 C76.63,503.82 71.03,502.67 66.90,501.40 C62.77,500.13 59.60,498.90 56.70,497.00 C53.80,495.10 51.15,492.83 49.50,490.00 C47.85,487.17 47.37,485.00 46.80,480.00 C46.23,475.00 46.27,468.33 46.10,460.00 C45.93,451.67 45.87,440.00 45.80,430.00 C45.73,420.00 45.72,410.00 45.70,400.00 C45.68,390.00 45.67,381.67 45.70,370.00 C45.73,358.33 45.75,339.83 45.90,330.00 C46.05,320.17 46.12,316.33 46.60,311.00 C47.08,305.67 47.93,301.17 48.80,298.00 C49.67,294.83 50.60,293.47 51.80,292.00 C53.00,290.53 54.47,289.40 56.00,289.20Z" fill="#008a8a" stroke="#2a1a17" stroke-width="0.8"/>
<path d="M58.50,383.50 C60.00,383.33 62.33,383.58 63.50,385.50 C64.67,387.42 65.00,390.08 65.50,395.00 C66.00,399.92 66.15,409.17 66.50,415.00 C66.85,420.83 66.93,425.83 67.60,430.00 C68.27,434.17 68.93,437.08 70.50,440.00 C72.07,442.92 74.88,445.50 77.00,447.50 C79.12,449.50 79.77,450.70 83.20,452.00 C86.63,453.30 92.80,454.30 97.60,455.30 C102.40,456.30 107.60,457.18 112.00,458.00 C116.40,458.82 120.83,459.12 124.00,460.20 C127.17,461.28 129.03,462.78 131.00,464.50 C132.97,466.22 134.57,468.62 135.80,470.50 C137.03,472.38 137.77,473.45 138.40,475.80 C139.03,478.15 139.60,481.67 139.60,484.60 C139.60,487.53 139.32,491.08 138.40,493.40 C137.48,495.72 136.28,497.30 134.10,498.50 C131.92,499.70 129.20,500.08 125.30,500.60 C121.40,501.12 115.57,501.45 110.70,501.60 C105.83,501.75 100.97,501.78 96.10,501.50 C91.23,501.22 86.37,500.65 81.50,499.90 C76.63,499.15 71.03,498.33 66.90,497.00 C62.77,495.67 59.38,493.97 56.70,491.90 C54.02,489.83 52.20,487.42 50.80,484.60 C49.40,481.78 48.73,479.10 48.30,475.00 C47.87,470.90 48.12,467.50 48.20,460.00 C48.28,452.50 48.57,438.33 48.80,430.00 C49.03,421.67 49.15,415.83 49.60,410.00 C50.05,404.17 50.68,398.92 51.50,395.00 C52.32,391.08 53.33,388.42 54.50,386.50 C55.67,384.58 57.00,383.67 58.50,383.50Z" fill="#ea971d" stroke="#2a1a17" stroke-width="0.8"/>
<path d="M55.10,300.00 C55.25,303.33 55.67,311.67 56.00,320.00 C56.33,328.33 56.65,339.40 57.10,350.00 C57.55,360.60 58.28,373.60 58.70,383.60 C59.12,393.60 59.22,400.60 59.60,410.00 C59.98,419.40 60.53,432.33 61.00,440.00 C61.47,447.67 61.48,452.08 62.40,456.00 C63.32,459.92 64.15,461.37 66.50,463.50 C68.85,465.63 72.88,467.33 76.50,468.80 C80.12,470.27 84.07,471.27 88.20,472.30 C92.33,473.33 97.33,474.50 101.30,475.00 C105.27,475.50 108.58,475.55 112.00,475.30 C115.42,475.05 118.72,474.72 121.80,473.50 C124.88,472.28 126.22,470.95 130.50,468.00 C134.78,465.05 141.17,460.47 147.50,455.80 C153.83,451.13 159.75,447.07 168.50,440.00 C177.25,432.93 184.22,426.70 200.00,413.40 C215.78,400.10 245.92,374.77 263.20,360.20 C280.48,345.63 296.95,331.70 303.70,326.00" fill="none" stroke="#261611" stroke-width="2.6" stroke-linejoin="round"/>
<path d="M54.30,287.10 L62.00,303.20 L55.10,302.20 L48.10,304.00Z" fill="#261611"/>
<rect x="52.00" y="291.80" width="6.0" height="6.0" fill="#b5b7b9" stroke="#231f20" stroke-width="0.9"/>
<rect x="52.70" y="306.30" width="6.0" height="6.0" fill="#b5b7b9" stroke="#231f20" stroke-width="0.9"/>
<rect x="53.10" y="343.70" width="6.0" height="6.0" fill="#b5b7b9" stroke="#231f20" stroke-width="0.9"/>
<rect x="52.50" y="359.00" width="6.0" height="6.0" fill="#b5b7b9" stroke="#231f20" stroke-width="0.9"/>
<rect x="53.40" y="412.00" width="6.0" height="6.0" fill="#b5b7b9" stroke="#231f20" stroke-width="0.9"/>
<rect x="55.20" y="414.20" width="6.0" height="6.0" fill="#b5b7b9" stroke="#231f20" stroke-width="0.9"/>
<rect x="59.60" y="442.00" width="6.0" height="6.0" fill="#b5b7b9" stroke="#231f20" stroke-width="0.9"/>
<rect x="54.50" y="455.10" width="6.0" height="6.0" fill="#b5b7b9" stroke="#231f20" stroke-width="0.9"/>
<rect x="54.50" y="460.20" width="6.0" height="6.0" fill="#b5b7b9" stroke="#231f20" stroke-width="0.9"/>
<rect x="68.40" y="455.10" width="6.0" height="6.0" fill="#b5b7b9" stroke="#231f20" stroke-width="0.9"/>
<rect x="57.40" y="472.30" width="6.0" height="6.0" fill="#b5b7b9" stroke="#231f20" stroke-width="0.9"/>
<rect x="72.00" y="471.50" width="6.0" height="6.0" fill="#b5b7b9" stroke="#231f20" stroke-width="0.9"/>
<rect x="75.70" y="471.50" width="6.0" height="6.0" fill="#b5b7b9" stroke="#231f20" stroke-width="0.9"/>
<rect x="80.80" y="467.10" width="6.0" height="6.0" fill="#b5b7b9" stroke="#231f20" stroke-width="0.9"/>
<rect x="86.60" y="469.30" width="6.0" height="6.0" fill="#b5b7b9" stroke="#231f20" stroke-width="0.9"/>
<rect x="88.80" y="464.20" width="6.0" height="6.0" fill="#b5b7b9" stroke="#231f20" stroke-width="0.9"/>
<rect x="96.10" y="466.40" width="6.0" height="6.0" fill="#b5b7b9" stroke="#231f20" stroke-width="0.9"/>
<rect x="102.70" y="463.50" width="6.0" height="6.0" fill="#b5b7b9" stroke="#231f20" stroke-width="0.9"/>
<rect x="102.00" y="470.50" width="6.0" height="6.0" fill="#b5b7b9" stroke="#231f20" stroke-width="0.9"/>
<rect x="96.10" y="455.50" width="6.0" height="6.0" fill="#b5b7b9" stroke="#231f20" stroke-width="0.9"/>
<rect x="102.00" y="456.20" width="6.0" height="6.0" fill="#b5b7b9" stroke="#231f20" stroke-width="0.9"/>
<rect x="103.40" y="457.70" width="6.0" height="6.0" fill="#b5b7b9" stroke="#231f20" stroke-width="0.9"/>
<rect x="112.20" y="462.00" width="6.0" height="6.0" fill="#b5b7b9" stroke="#231f20" stroke-width="0.9"/>
<rect x="107.00" y="474.00" width="6.0" height="6.0" fill="#b5b7b9" stroke="#231f20" stroke-width="0.9"/>
<rect x="111.50" y="474.40" width="6.0" height="6.0" fill="#b5b7b9" stroke="#231f20" stroke-width="0.9"/>
<rect x="121.70" y="452.50" width="6.0" height="6.0" fill="#b5b7b9" stroke="#231f20" stroke-width="0.9"/>
<rect x="128.20" y="451.80" width="6.0" height="6.0" fill="#b5b7b9" stroke="#231f20" stroke-width="0.9"/>
<rect x="123.10" y="461.30" width="6.0" height="6.0" fill="#b5b7b9" stroke="#231f20" stroke-width="0.9"/>
<rect x="120.20" y="478.10" width="6.0" height="6.0" fill="#b5b7b9" stroke="#231f20" stroke-width="0.9"/>
<rect x="86.60" y="477.40" width="6.0" height="6.0" fill="#b5b7b9" stroke="#231f20" stroke-width="0.9"/>
<rect x="90.30" y="477.40" width="6.0" height="6.0" fill="#b5b7b9" stroke="#231f20" stroke-width="0.9"/>
<rect x="72.80" y="479.60" width="6.0" height="6.0" fill="#b5b7b9" stroke="#231f20" stroke-width="0.9"/>
<rect x="65.50" y="478.10" width="6.0" height="6.0" fill="#b5b7b9" stroke="#231f20" stroke-width="0.9"/>
<rect x="134.10" y="465.00" width="6.0" height="6.0" fill="#b5b7b9" stroke="#231f20" stroke-width="0.9"/>
<rect x="158.60" y="417.40" width="6.0" height="6.0" fill="#b5b7b9" stroke="#231f20" stroke-width="0.9"/>
<rect x="145.50" y="420.40" width="6.0" height="6.0" fill="#b5b7b9" stroke="#231f20" stroke-width="0.9"/>
<rect x="153.50" y="421.10" width="6.0" height="6.0" fill="#b5b7b9" stroke="#231f20" stroke-width="0.9"/>
<rect x="142.50" y="424.00" width="6.0" height="6.0" fill="#b5b7b9" stroke="#231f20" stroke-width="0.9"/>
<rect x="141.10" y="428.40" width="6.0" height="6.0" fill="#b5b7b9" stroke="#231f20" stroke-width="0.9"/>
<rect x="149.80" y="432.80" width="6.0" height="6.0" fill="#b5b7b9" stroke="#231f20" stroke-width="0.9"/>
<rect x="152.80" y="440.50" width="6.0" height="6.0" fill="#b5b7b9" stroke="#231f20" stroke-width="0.9"/>
<rect x="138.20" y="439.00" width="6.0" height="6.0" fill="#b5b7b9" stroke="#231f20" stroke-width="0.9"/>
<rect x="173.90" y="422.10" width="6.0" height="6.0" fill="#b5b7b9" stroke="#231f20" stroke-width="0.9"/>
<rect x="171.70" y="426.90" width="6.0" height="6.0" fill="#b5b7b9" stroke="#231f20" stroke-width="0.9"/>
<rect x="168.80" y="431.30" width="6.0" height="6.0" fill="#b5b7b9" stroke="#231f20" stroke-width="0.9"/>
<rect x="168.80" y="440.80" width="6.0" height="6.0" fill="#b5b7b9" stroke="#231f20" stroke-width="0.9"/>
<rect x="133.80" y="467.00" width="6.0" height="6.0" fill="#b5b7b9" stroke="#231f20" stroke-width="0.9"/>
<rect x="133.80" y="471.50" width="6.0" height="6.0" fill="#b5b7b9" stroke="#231f20" stroke-width="0.9"/>
<rect x="144.00" y="462.70" width="6.0" height="6.0" fill="#b5b7b9" stroke="#231f20" stroke-width="0.9"/>
<rect x="138.90" y="461.20" width="6.0" height="6.0" fill="#b5b7b9" stroke="#231f20" stroke-width="0.9"/>
<rect x="136.00" y="460.90" width="6.0" height="6.0" fill="#b5b7b9" stroke="#231f20" stroke-width="0.9"/>
<rect x="119.90" y="478.00" width="6.0" height="6.0" fill="#b5b7b9" stroke="#231f20" stroke-width="0.9"/>
<circle cx="70.70" cy="463.60" r="3.4" fill="#fff" stroke="#231f20" stroke-width="0.7"/>
<circle cx="115.20" cy="472.30" r="3.4" fill="#fff" stroke="#231f20" stroke-width="0.7"/>
<circle cx="133.40" cy="450.40" r="3.4" fill="#fff" stroke="#231f20" stroke-width="0.7"/>
<circle cx="136.40" cy="458.50" r="3.4" fill="#fff" stroke="#231f20" stroke-width="0.7"/>
<circle cx="160.10" cy="411.00" r="3.4" fill="#fff" stroke="#231f20" stroke-width="0.7"/>
<circle cx="155.50" cy="413.60" r="3.4" fill="#fff" stroke="#231f20" stroke-width="0.7"/>
<circle cx="150.70" cy="429.90" r="3.4" fill="#fff" stroke="#231f20" stroke-width="0.7"/>
<circle cx="191.50" cy="412.80" r="3.4" fill="#fff" stroke="#231f20" stroke-width="0.7"/>
<circle cx="198.10" cy="413.40" r="3.4" fill="#fff" stroke="#231f20" stroke-width="0.7"/>
<circle cx="189.80" cy="417.20" r="3.4" fill="#fff" stroke="#231f20" stroke-width="0.7"/>
<circle cx="195.20" cy="420.40" r="3.4" fill="#fff" stroke="#231f20" stroke-width="0.7"/>
<circle cx="201.00" cy="423.40" r="3.4" fill="#fff" stroke="#231f20" stroke-width="0.7"/>
<circle cx="198.80" cy="425.50" r="3.4" fill="#fff" stroke="#231f20" stroke-width="0.7"/>
<circle cx="202.50" cy="429.90" r="3.4" fill="#fff" stroke="#231f20" stroke-width="0.7"/>
<circle cx="205.80" cy="431.00" r="3.4" fill="#fff" stroke="#231f20" stroke-width="0.7"/>
<circle cx="198.10" cy="435.80" r="3.4" fill="#fff" stroke="#231f20" stroke-width="0.7"/>
<circle cx="202.20" cy="440.90" r="3.4" fill="#fff" stroke="#231f20" stroke-width="0.7"/>
<circle cx="172.60" cy="439.10" r="3.4" fill="#fff" stroke="#231f20" stroke-width="0.7"/>
<circle cx="143.40" cy="448.20" r="3.4" fill="#fff" stroke="#231f20" stroke-width="0.7"/>
<circle cx="133.90" cy="450.40" r="3.4" fill="#fff" stroke="#231f20" stroke-width="0.7"/>
<circle cx="141.90" cy="453.30" r="3.4" fill="#fff" stroke="#231f20" stroke-width="0.7"/>
<circle cx="142.60" cy="456.20" r="3.4" fill="#fff" stroke="#231f20" stroke-width="0.7"/>
<circle cx="136.80" cy="458.40" r="3.4" fill="#fff" stroke="#231f20" stroke-width="0.7"/>
<circle cx="192.00" cy="394.60" r="3.4" fill="#fff" stroke="#231f20" stroke-width="0.7"/>
<circle cx="222.80" cy="405.80" r="3.4" fill="#fff" stroke="#231f20" stroke-width="0.7"/>
<circle cx="241.60" cy="379.30" r="3.4" fill="#fff" stroke="#231f20" stroke-width="0.7"/>
<circle cx="263.50" cy="360.10" r="3.4" fill="#fff" stroke="#231f20" stroke-width="0.7"/>
<circle cx="277.10" cy="331.00" r="3.4" fill="#fff" stroke="#231f20" stroke-width="0.7"/>
<circle cx="278.50" cy="327.10" r="3.4" fill="#fff" stroke="#231f20" stroke-width="0.7"/>
<circle cx="277.40" cy="331.00" r="3.4" fill="#fff" stroke="#231f20" stroke-width="0.7"/>
<circle cx="296.00" cy="338.00" r="3.4" fill="#fff" stroke="#231f20" stroke-width="0.7"/>
<circle cx="291.70" cy="340.90" r="3.4" fill="#fff" stroke="#231f20" stroke-width="0.7"/>
<circle cx="293.90" cy="343.10" r="3.4" fill="#fff" stroke="#231f20" stroke-width="0.7"/>
<circle cx="305.90" cy="348.30" r="3.4" fill="#fff" stroke="#231f20" stroke-width="0.7"/>
<circle cx="293.40" cy="351.60" r="3.4" fill="#fff" stroke="#231f20" stroke-width="0.7"/>
<circle cx="305.70" cy="348.20" r="3.4" fill="#fff" stroke="#231f20" stroke-width="0.7"/>
<path d="M60.10,416.90 L64.30,423.90 L55.90,423.90Z" fill="#eea9ae" stroke="#231f20" stroke-width="0.7"/>
<path d="M121.00,470.10 L125.20,477.10 L116.80,477.10Z" fill="#eea9ae" stroke="#231f20" stroke-width="0.7"/>
<path d="M126.10,469.40 L130.30,476.40 L121.90,476.40Z" fill="#eea9ae" stroke="#231f20" stroke-width="0.7"/>
<path d="M123.90,472.30 L128.10,479.30 L119.70,479.30Z" fill="#eea9ae" stroke="#231f20" stroke-width="0.7"/>
<path d="M122.90,467.80 L127.10,474.80 L118.70,474.80Z" fill="#eea9ae" stroke="#231f20" stroke-width="0.7"/>
<path d="M125.80,469.30 L130.00,476.30 L121.60,476.30Z" fill="#eea9ae" stroke="#231f20" stroke-width="0.7"/>
<path d="M54.80,386.90 L63.20,386.90 L59.00,393.90Z" fill="#f08c1e" stroke="#231f20" stroke-width="0.7"/>
<path d="M57.40,427.80 L65.80,427.80 L61.60,434.80Z" fill="#f08c1e" stroke="#231f20" stroke-width="0.7"/>
<path d="M58.40,433.60 L66.80,433.60 L62.60,440.60Z" fill="#f08c1e" stroke="#231f20" stroke-width="0.7"/>
<path d="M57.40,440.90 L65.80,440.90 L61.60,447.90Z" fill="#f08c1e" stroke="#231f20" stroke-width="0.7"/>
<path d="M56.20,447.50 L64.60,447.50 L60.40,454.50Z" fill="#f08c1e" stroke="#231f20" stroke-width="0.7"/>
<path d="M58.40,450.40 L66.80,450.40 L62.60,457.40Z" fill="#f08c1e" stroke="#231f20" stroke-width="0.7"/>
<path d="M58.40,459.20 L66.80,459.20 L62.60,466.20Z" fill="#f08c1e" stroke="#231f20" stroke-width="0.7"/>
<path d="M70.80,449.00 L79.20,449.00 L75.00,456.00Z" fill="#f08c1e" stroke="#231f20" stroke-width="0.7"/>
<path d="M127.00,488.70 L135.40,488.70 L131.20,495.70Z" fill="#f08c1e" stroke="#231f20" stroke-width="0.7"/>
<path d="M55.30,440.20 L59.50,444.40 L55.30,448.60 L51.10,444.40Z" fill="#e8333d" stroke="#231f20" stroke-width="0.7"/>
<path d="M60.40,481.30 L64.60,485.50 L60.40,489.70 L56.20,485.50Z" fill="#e8333d" stroke="#231f20" stroke-width="0.7"/>
<path d="M69.90,480.50 L74.10,484.70 L69.90,488.90 L65.70,484.70Z" fill="#e8333d" stroke="#231f20" stroke-width="0.7"/>
<path d="M71.10,487.80 L75.30,492.00 L71.10,496.20 L66.90,492.00Z" fill="#e8333d" stroke="#231f20" stroke-width="0.7"/>
<path d="M83.80,480.50 L88.00,484.70 L83.80,488.90 L79.60,484.70Z" fill="#e8333d" stroke="#231f20" stroke-width="0.7"/>
<path d="M89.60,483.50 L93.80,487.70 L89.60,491.90 L85.40,487.70Z" fill="#e8333d" stroke="#231f20" stroke-width="0.7"/>
<path d="M81.60,487.80 L85.80,492.00 L81.60,496.20 L77.40,492.00Z" fill="#e8333d" stroke="#231f20" stroke-width="0.7"/>
<path d="M87.90,488.60 L92.10,492.80 L87.90,497.00 L83.70,492.80Z" fill="#e8333d" stroke="#231f20" stroke-width="0.7"/>
<rect x="113.3" y="280.5" width="81.3" height="71.4" fill="#fff" stroke="#6d5f5d" stroke-width="0.8"/>
<rect x="122.75" y="287.70" width="6.6" height="6.6" fill="#b5b7b9" stroke="#231f20" stroke-width="0.9"/>
<circle cx="126.05" cy="304.10" r="3.5" fill="#fff" stroke="#231f20" stroke-width="0.7"/>
<path d="M126.05,312.30 L130.55,319.70 L121.55,319.70Z" fill="#eea9ae" stroke="#231f20" stroke-width="0.7"/>
<path d="M121.55,327.50 L130.55,327.50 L126.05,334.90Z" fill="#f08c1e" stroke="#231f20" stroke-width="0.7"/>
<path d="M126.05,338.55 L130.55,343.05 L126.05,347.55 L121.55,343.05Z" fill="#e8333d" stroke="#231f20" stroke-width="0.7"/>
<text x="142.90" y="295.30" font-size="10.2" text-anchor="start" fill="#1a1a1a" textLength="44.3" lengthAdjust="spacingAndGlyphs" >0.2 GPa</text>
<text x="142.90" y="308.15" font-size="10.2" text-anchor="start" fill="#1a1a1a" textLength="44.3" lengthAdjust="spacingAndGlyphs" >0.3 GPa</text>
<text x="142.90" y="321.00" font-size="10.2" text-anchor="start" fill="#1a1a1a" textLength="44.3" lengthAdjust="spacingAndGlyphs" >0.4 GPa</text>
<text x="142.90" y="333.85" font-size="10.2" text-anchor="start" fill="#1a1a1a" textLength="44.3" lengthAdjust="spacingAndGlyphs" >0.5 GPa</text>
<text x="142.90" y="346.70" font-size="10.2" text-anchor="start" fill="#1a1a1a" textLength="44.3" lengthAdjust="spacingAndGlyphs" >0.6 GPa</text>
<text x="313.75" y="296.00" font-size="21" text-anchor="middle" fill="#2e1c19" >c</text>
<path d="M403.30,317.00 C404.60,316.43 406.47,315.93 409.00,316.10 C411.53,316.27 415.33,317.05 418.50,318.00 C421.67,318.95 425.17,320.07 428.00,321.80 C430.83,323.53 433.45,325.88 435.50,328.40 C437.55,330.92 439.03,333.58 440.30,336.90 C441.57,340.22 442.47,344.18 443.10,348.30 C443.73,352.42 443.78,356.85 444.10,361.60 C444.42,366.35 444.53,372.37 445.00,376.80 C445.47,381.23 445.95,384.72 446.90,388.20 C447.85,391.68 449.12,394.22 450.70,397.70 C452.28,401.18 454.82,405.63 456.40,409.10 C457.98,412.57 458.30,415.83 460.20,418.50 C462.10,421.17 465.27,423.52 467.80,425.10 C470.33,426.68 472.55,427.68 475.40,428.00 C478.25,428.32 481.42,427.95 484.90,427.00 C488.38,426.05 492.50,424.67 496.30,422.30 C500.10,419.93 504.42,415.93 507.70,412.80 C510.98,409.67 513.55,406.60 516.00,403.50 C518.45,400.40 519.27,398.65 522.40,394.20 C525.53,389.75 530.67,383.42 534.80,376.80 C538.93,370.18 543.07,361.95 547.20,354.50 C551.33,347.05 555.87,338.73 559.60,332.10 C563.33,325.47 566.28,319.87 569.60,314.70 C572.92,309.53 575.78,304.60 579.50,301.10 C583.22,297.60 586.93,295.77 591.90,293.70 C596.87,291.63 603.10,289.95 609.30,288.70 C615.50,287.45 623.32,286.65 629.10,286.20 C634.88,285.75 640.27,285.43 644.00,286.00 C647.73,286.57 649.72,287.50 651.50,289.60 C653.28,291.70 654.50,295.23 654.70,298.60 C654.90,301.97 654.07,305.87 652.70,309.80 C651.33,313.73 649.60,317.65 646.50,322.20 C643.40,326.75 638.23,332.13 634.10,337.10 C629.97,342.07 625.83,346.62 621.70,352.00 C617.57,357.38 613.25,363.07 609.30,369.40 C605.35,375.73 600.88,382.85 598.00,390.00 C595.12,397.15 594.72,405.72 592.00,412.30 C589.28,418.88 585.03,424.72 581.70,429.50 C578.37,434.28 574.78,437.63 572.00,441.00 C569.22,444.37 567.62,446.97 565.00,449.70 C562.38,452.43 559.45,454.77 556.30,457.40 C553.15,460.03 549.17,463.12 546.10,465.50 C543.03,467.88 540.45,469.48 537.90,471.70 C535.35,473.92 533.02,476.25 530.80,478.80 C528.58,481.35 526.65,484.27 524.60,487.00 C522.55,489.73 520.70,492.90 518.50,495.20 C516.30,497.50 513.95,499.35 511.40,500.80 C508.85,502.25 505.93,503.13 503.20,503.90 C500.47,504.67 498.85,505.33 495.00,505.40 C491.15,505.47 485.50,505.15 480.10,504.30 C474.70,503.45 468.45,501.85 462.60,500.30 C456.75,498.75 450.85,497.05 445.00,495.00 C439.15,492.95 432.17,490.08 427.50,488.00 C422.83,485.92 420.33,485.17 417.00,482.50 C413.67,479.83 410.03,476.35 407.50,472.00 C404.97,467.65 403.22,462.17 401.80,456.40 C400.38,450.63 399.67,445.30 399.00,437.40 C398.33,429.50 398.03,417.83 397.80,409.00 C397.57,400.17 397.48,391.67 397.60,384.40 C397.72,377.13 398.25,371.73 398.50,365.40 C398.75,359.07 398.87,352.73 399.10,346.40 C399.33,340.07 399.55,331.88 399.90,327.40 C400.25,322.92 400.63,321.23 401.20,319.50 C401.77,317.77 402.00,317.57 403.30,317.00Z" fill="#008a8a" stroke="#2a1a17" stroke-width="0.8"/>
<path d="M424.20,476.40 C424.78,474.93 426.12,471.20 428.00,469.70 C429.88,468.20 432.35,467.55 435.50,467.40 C438.65,467.25 443.42,468.42 446.90,468.80 C450.38,469.18 452.60,470.02 456.40,469.70 C460.20,469.38 466.22,468.48 469.70,466.90 C473.18,465.32 475.08,463.53 477.30,460.20 C479.52,456.87 481.10,451.02 483.00,446.90 C484.90,442.78 486.48,438.97 488.70,435.50 C490.92,432.03 493.08,429.52 496.30,426.10 C499.52,422.68 504.05,418.43 508.00,415.00 C511.95,411.57 516.35,409.38 520.00,405.50 C523.65,401.62 527.02,395.65 529.90,391.70 C532.78,387.75 534.83,383.87 537.30,381.80 C539.77,379.73 542.42,379.10 544.70,379.30 C546.98,379.50 549.67,380.72 551.00,383.00 C552.33,385.28 552.38,386.77 552.70,393.00 C553.02,399.23 552.93,413.10 552.90,420.40 C552.87,427.70 552.70,432.52 552.50,436.80 C552.30,441.08 552.43,443.18 551.70,446.10 C550.97,449.02 549.88,451.73 548.10,454.30 C546.32,456.87 543.38,459.12 541.00,461.50 C538.62,463.88 536.35,466.05 533.80,468.60 C531.25,471.15 528.25,474.07 525.70,476.80 C523.15,479.53 520.72,482.45 518.50,485.00 C516.28,487.55 514.62,490.07 512.40,492.10 C510.18,494.13 508.10,495.95 505.20,497.20 C502.30,498.45 499.18,499.50 495.00,499.60 C490.82,499.70 485.50,498.73 480.10,497.80 C474.70,496.87 468.45,495.63 462.60,494.00 C456.75,492.37 450.43,490.25 445.00,488.00 C439.57,485.75 433.42,482.08 430.00,480.50 C426.58,478.92 425.47,479.18 424.50,478.50 C423.53,477.82 423.62,477.87 424.20,476.40Z" fill="#ea971d" stroke="#2a1a17" stroke-width="0.8"/>
<path d="M414.30,325.00 C414.67,327.50 415.80,334.85 416.50,340.00 C417.20,345.15 417.53,349.45 418.50,355.90 C419.47,362.35 420.88,370.78 422.30,378.70 C423.72,386.62 425.73,397.72 427.00,403.40 C428.27,409.08 428.32,407.45 429.90,412.80 C431.48,418.15 433.98,428.87 436.50,435.50 C439.02,442.13 442.32,448.00 445.00,452.60 C447.68,457.20 450.07,460.40 452.60,463.10 C455.13,465.80 457.35,467.68 460.20,468.80 C463.05,469.92 466.53,469.97 469.70,469.80 C472.87,469.63 475.72,468.92 479.20,467.80 C482.68,466.68 486.48,465.63 490.60,463.10 C494.72,460.57 500.12,455.62 503.90,452.60 C507.68,449.58 510.28,447.77 513.30,445.00 C516.32,442.23 518.83,440.17 522.00,436.00 C525.17,431.83 527.27,426.58 532.30,420.00 C537.33,413.42 543.82,406.88 552.20,396.50 C560.58,386.12 573.07,369.80 582.60,357.70 C592.13,345.60 601.00,334.27 609.40,323.90 C617.80,313.53 629.07,300.23 633.00,295.50" fill="none" stroke="#261611" stroke-width="2.5" stroke-linejoin="round"/>
<path d="M642.80,284.30 L637.80,302.50 L634.50,295.50 L626.20,293.70Z" fill="#261611"/>
<rect x="408.30" y="417.40" width="6.0" height="6.0" fill="#b5b7b9" stroke="#231f20" stroke-width="0.9"/>
<rect x="406.00" y="424.00" width="6.0" height="6.0" fill="#b5b7b9" stroke="#231f20" stroke-width="0.9"/>
<rect x="411.70" y="423.10" width="6.0" height="6.0" fill="#b5b7b9" stroke="#231f20" stroke-width="0.9"/>
<rect x="412.60" y="427.80" width="6.0" height="6.0" fill="#b5b7b9" stroke="#231f20" stroke-width="0.9"/>
<rect x="415.10" y="426.90" width="6.0" height="6.0" fill="#b5b7b9" stroke="#231f20" stroke-width="0.9"/>
<rect x="410.20" y="432.50" width="6.0" height="6.0" fill="#b5b7b9" stroke="#231f20" stroke-width="0.9"/>
<rect x="419.80" y="440.50" width="6.0" height="6.0" fill="#b5b7b9" stroke="#231f20" stroke-width="0.9"/>
<rect x="428.40" y="438.20" width="6.0" height="6.0" fill="#b5b7b9" stroke="#231f20" stroke-width="0.9"/>
<rect x="431.00" y="441.10" width="6.0" height="6.0" fill="#b5b7b9" stroke="#231f20" stroke-width="0.9"/>
<rect x="448.10" y="431.00" width="6.0" height="6.0" fill="#b5b7b9" stroke="#231f20" stroke-width="0.9"/>
<rect x="420.20" y="452.50" width="6.0" height="6.0" fill="#b5b7b9" stroke="#231f20" stroke-width="0.9"/>
<rect x="422.10" y="459.10" width="6.0" height="6.0" fill="#b5b7b9" stroke="#231f20" stroke-width="0.9"/>
<rect x="412.60" y="464.40" width="6.0" height="6.0" fill="#b5b7b9" stroke="#231f20" stroke-width="0.9"/>
<rect x="422.10" y="463.90" width="6.0" height="6.0" fill="#b5b7b9" stroke="#231f20" stroke-width="0.9"/>
<rect x="464.80" y="451.50" width="6.0" height="6.0" fill="#b5b7b9" stroke="#231f20" stroke-width="0.9"/>
<rect x="466.70" y="460.10" width="6.0" height="6.0" fill="#b5b7b9" stroke="#231f20" stroke-width="0.9"/>
<rect x="469.60" y="454.40" width="6.0" height="6.0" fill="#b5b7b9" stroke="#231f20" stroke-width="0.9"/>
<rect x="470.50" y="463.90" width="6.0" height="6.0" fill="#b5b7b9" stroke="#231f20" stroke-width="0.9"/>
<rect x="457.60" y="462.90" width="6.0" height="6.0" fill="#b5b7b9" stroke="#231f20" stroke-width="0.9"/>
<rect x="457.20" y="471.50" width="6.0" height="6.0" fill="#b5b7b9" stroke="#231f20" stroke-width="0.9"/>
<rect x="460.10" y="476.20" width="6.0" height="6.0" fill="#b5b7b9" stroke="#231f20" stroke-width="0.9"/>
<rect x="444.90" y="478.70" width="6.0" height="6.0" fill="#b5b7b9" stroke="#231f20" stroke-width="0.9"/>
<rect x="453.40" y="481.50" width="6.0" height="6.0" fill="#b5b7b9" stroke="#231f20" stroke-width="0.9"/>
<rect x="474.30" y="470.50" width="6.0" height="6.0" fill="#b5b7b9" stroke="#231f20" stroke-width="0.9"/>
<rect x="482.80" y="472.40" width="6.0" height="6.0" fill="#b5b7b9" stroke="#231f20" stroke-width="0.9"/>
<rect x="483.80" y="454.90" width="6.0" height="6.0" fill="#b5b7b9" stroke="#231f20" stroke-width="0.9"/>
<rect x="478.10" y="462.00" width="6.0" height="6.0" fill="#b5b7b9" stroke="#231f20" stroke-width="0.9"/>
<rect x="494.80" y="473.70" width="6.0" height="6.0" fill="#b5b7b9" stroke="#231f20" stroke-width="0.9"/>
<rect x="495.20" y="479.60" width="6.0" height="6.0" fill="#b5b7b9" stroke="#231f20" stroke-width="0.9"/>
<rect x="510.30" y="442.00" width="6.0" height="6.0" fill="#b5b7b9" stroke="#231f20" stroke-width="0.9"/>
<rect x="464.80" y="477.20" width="6.0" height="6.0" fill="#b5b7b9" stroke="#231f20" stroke-width="0.9"/>
<rect x="467.70" y="465.80" width="6.0" height="6.0" fill="#b5b7b9" stroke="#231f20" stroke-width="0.9"/>
<rect x="524.60" y="414.80" width="6.0" height="6.0" fill="#b5b7b9" stroke="#231f20" stroke-width="0.9"/>
<rect x="525.20" y="456.30" width="6.0" height="6.0" fill="#b5b7b9" stroke="#231f20" stroke-width="0.9"/>
<rect x="576.10" y="412.30" width="6.0" height="6.0" fill="#b5b7b9" stroke="#231f20" stroke-width="0.9"/>
<rect x="497.00" y="474.70" width="6.0" height="6.0" fill="#b5b7b9" stroke="#231f20" stroke-width="0.9"/>
<rect x="497.00" y="479.80" width="6.0" height="6.0" fill="#b5b7b9" stroke="#231f20" stroke-width="0.9"/>
<rect x="578.50" y="306.30" width="6.0" height="6.0" fill="#b5b7b9" stroke="#231f20" stroke-width="0.9"/>
<rect x="639.80" y="291.90" width="6.0" height="6.0" fill="#b5b7b9" stroke="#231f20" stroke-width="0.9"/>
<rect x="562.80" y="343.50" width="6.0" height="6.0" fill="#b5b7b9" stroke="#231f20" stroke-width="0.9"/>
<rect x="583.20" y="358.90" width="6.0" height="6.0" fill="#b5b7b9" stroke="#231f20" stroke-width="0.9"/>
<rect x="523.90" y="413.50" width="6.0" height="6.0" fill="#b5b7b9" stroke="#231f20" stroke-width="0.9"/>
<circle cx="411.40" cy="327.40" r="3.4" fill="#fff" stroke="#231f20" stroke-width="0.7"/>
<circle cx="415.20" cy="330.90" r="3.4" fill="#fff" stroke="#231f20" stroke-width="0.7"/>
<circle cx="416.20" cy="337.90" r="3.4" fill="#fff" stroke="#231f20" stroke-width="0.7"/>
<circle cx="424.20" cy="341.30" r="3.4" fill="#fff" stroke="#231f20" stroke-width="0.7"/>
<circle cx="433.70" cy="342.20" r="3.4" fill="#fff" stroke="#231f20" stroke-width="0.7"/>
<circle cx="416.20" cy="348.30" r="3.4" fill="#fff" stroke="#231f20" stroke-width="0.7"/>
<circle cx="411.80" cy="351.70" r="3.4" fill="#fff" stroke="#231f20" stroke-width="0.7"/>
<circle cx="435.00" cy="360.30" r="3.4" fill="#fff" stroke="#231f20" stroke-width="0.7"/>
<circle cx="425.10" cy="379.10" r="3.4" fill="#fff" stroke="#231f20" stroke-width="0.7"/>
<circle cx="413.70" cy="394.40" r="3.4" fill="#fff" stroke="#231f20" stroke-width="0.7"/>
<circle cx="436.50" cy="405.60" r="3.4" fill="#fff" stroke="#231f20" stroke-width="0.7"/>
<circle cx="424.70" cy="410.00" r="3.4" fill="#fff" stroke="#231f20" stroke-width="0.7"/>
<circle cx="436.50" cy="413.70" r="3.4" fill="#fff" stroke="#231f20" stroke-width="0.7"/>
<circle cx="425.10" cy="412.80" r="3.4" fill="#fff" stroke="#231f20" stroke-width="0.7"/>
<circle cx="418.10" cy="417.10" r="3.4" fill="#fff" stroke="#231f20" stroke-width="0.7"/>
<circle cx="427.00" cy="420.40" r="3.4" fill="#fff" stroke="#231f20" stroke-width="0.7"/>
<circle cx="453.60" cy="424.20" r="3.4" fill="#fff" stroke="#231f20" stroke-width="0.7"/>
<circle cx="459.30" cy="425.70" r="3.4" fill="#fff" stroke="#231f20" stroke-width="0.7"/>
<circle cx="456.40" cy="429.90" r="3.4" fill="#fff" stroke="#231f20" stroke-width="0.7"/>
<circle cx="460.20" cy="431.80" r="3.4" fill="#fff" stroke="#231f20" stroke-width="0.7"/>
<circle cx="462.10" cy="435.90" r="3.4" fill="#fff" stroke="#231f20" stroke-width="0.7"/>
<circle cx="445.00" cy="431.40" r="3.4" fill="#fff" stroke="#231f20" stroke-width="0.7"/>
<circle cx="438.40" cy="439.30" r="3.4" fill="#fff" stroke="#231f20" stroke-width="0.7"/>
<circle cx="455.50" cy="440.90" r="3.4" fill="#fff" stroke="#231f20" stroke-width="0.7"/>
<circle cx="410.90" cy="451.10" r="3.4" fill="#fff" stroke="#231f20" stroke-width="0.7"/>
<circle cx="419.40" cy="448.80" r="3.4" fill="#fff" stroke="#231f20" stroke-width="0.7"/>
<circle cx="418.50" cy="455.50" r="3.4" fill="#fff" stroke="#231f20" stroke-width="0.7"/>
<circle cx="416.60" cy="460.60" r="3.4" fill="#fff" stroke="#231f20" stroke-width="0.7"/>
<circle cx="420.40" cy="465.00" r="3.4" fill="#fff" stroke="#231f20" stroke-width="0.7"/>
<circle cx="421.30" cy="473.50" r="3.4" fill="#fff" stroke="#231f20" stroke-width="0.7"/>
<path d="M428.00,466.00 L432.20,473.00 L423.80,473.00Z" fill="#eea9ae" stroke="#231f20" stroke-width="0.7"/>
<path d="M432.70,467.90 L436.90,474.90 L428.50,474.90Z" fill="#eea9ae" stroke="#231f20" stroke-width="0.7"/>
<path d="M432.70,471.70 L436.90,478.70 L428.50,478.70Z" fill="#eea9ae" stroke="#231f20" stroke-width="0.7"/>
<path d="M493.40,456.90 L497.60,463.90 L489.20,463.90Z" fill="#eea9ae" stroke="#231f20" stroke-width="0.7"/>
<path d="M502.00,456.10 L506.20,463.10 L497.80,463.10Z" fill="#eea9ae" stroke="#231f20" stroke-width="0.7"/>
<path d="M429.90,463.20 L434.10,470.20 L425.70,470.20Z" fill="#eea9ae" stroke="#231f20" stroke-width="0.7"/>
<path d="M519.40,416.70 L523.60,423.70 L515.20,423.70Z" fill="#eea9ae" stroke="#231f20" stroke-width="0.7"/>
<path d="M502.00,455.60 L506.20,462.60 L497.80,462.60Z" fill="#eea9ae" stroke="#231f20" stroke-width="0.7"/>
<path d="M500.60,427.50 L509.00,427.50 L504.80,434.50Z" fill="#f08c1e" stroke="#231f20" stroke-width="0.7"/>
<path d="M491.10,433.20 L499.50,433.20 L495.30,440.20Z" fill="#f08c1e" stroke="#231f20" stroke-width="0.7"/>
<path d="M491.10,440.80 L499.50,440.80 L495.30,447.80Z" fill="#f08c1e" stroke="#231f20" stroke-width="0.7"/>
<path d="M494.00,447.40 L502.40,447.40 L498.20,454.40Z" fill="#f08c1e" stroke="#231f20" stroke-width="0.7"/>
<path d="M489.20,449.90 L497.60,449.90 L493.40,456.90Z" fill="#f08c1e" stroke="#231f20" stroke-width="0.7"/>
<path d="M479.70,458.80 L488.10,458.80 L483.90,465.80Z" fill="#f08c1e" stroke="#231f20" stroke-width="0.7"/>
<path d="M501.50,428.40 L509.90,428.40 L505.70,435.40Z" fill="#f08c1e" stroke="#231f20" stroke-width="0.7"/>
<path d="M515.80,449.40 L524.20,449.40 L520.00,456.40Z" fill="#f08c1e" stroke="#231f20" stroke-width="0.7"/>
<path d="M538.60,387.10 L547.00,387.10 L542.80,394.10Z" fill="#f08c1e" stroke="#231f20" stroke-width="0.7"/>
<path d="M466.90,481.60 L471.10,485.80 L466.90,490.00 L462.70,485.80Z" fill="#e8333d" stroke="#231f20" stroke-width="0.7"/>
<path d="M479.20,480.10 L483.40,484.30 L479.20,488.50 L475.00,484.30Z" fill="#e8333d" stroke="#231f20" stroke-width="0.7"/>
<path d="M486.80,480.10 L491.00,484.30 L486.80,488.50 L482.60,484.30Z" fill="#e8333d" stroke="#231f20" stroke-width="0.7"/>
<path d="M472.60,488.30 L476.80,492.50 L472.60,496.70 L468.40,492.50Z" fill="#e8333d" stroke="#231f20" stroke-width="0.7"/>
<path d="M480.70,487.70 L484.90,491.90 L480.70,496.10 L476.50,491.90Z" fill="#e8333d" stroke="#231f20" stroke-width="0.7"/>
<path d="M493.40,484.10 L497.60,488.30 L493.40,492.50 L489.20,488.30Z" fill="#e8333d" stroke="#231f20" stroke-width="0.7"/>
<path d="M499.10,488.30 L503.30,492.50 L499.10,496.70 L494.90,492.50Z" fill="#e8333d" stroke="#231f20" stroke-width="0.7"/>
<path d="M545.40,440.40 L549.60,444.60 L545.40,448.80 L541.20,444.60Z" fill="#e8333d" stroke="#231f20" stroke-width="0.7"/>
<text x="667.00" y="298.80" font-size="20" text-anchor="middle" fill="#2e1c19" >d</text>
<path d="M52.30,708.30 C53.60,708.07 55.68,708.02 57.00,708.20 C58.32,708.38 59.23,708.68 60.20,709.40 C61.17,710.12 62.20,710.97 62.80,712.50 C63.40,714.03 63.55,716.38 63.80,718.60 C64.05,720.82 64.13,723.25 64.30,725.80 C64.47,728.35 64.45,731.35 64.80,733.90 C65.15,736.45 65.72,739.30 66.40,741.10 C67.08,742.90 67.72,744.02 68.90,744.70 C70.08,745.38 71.53,745.38 73.50,745.20 C75.47,745.02 78.15,744.45 80.70,743.60 C83.25,742.75 86.25,741.72 88.80,740.10 C91.35,738.48 93.62,736.47 96.00,733.90 C98.38,731.33 100.55,728.27 103.10,724.70 C105.65,721.13 108.42,716.82 111.30,712.50 C114.18,708.18 117.17,703.47 120.40,698.80 C123.63,694.13 127.28,689.10 130.70,684.50 C134.12,679.90 137.68,675.03 140.90,671.20 C144.12,667.37 146.05,664.82 150.00,661.50 C153.95,658.18 159.73,654.45 164.60,651.30 C169.47,648.15 174.33,645.52 179.20,642.60 C184.07,639.68 188.93,636.85 193.80,633.80 C198.67,630.75 203.53,627.58 208.40,624.30 C213.27,621.02 218.13,617.45 223.00,614.10 C227.87,610.75 233.42,607.12 237.60,604.20 C241.78,601.28 244.98,598.68 248.10,596.60 C251.22,594.52 253.58,593.33 256.30,591.70 C259.02,590.07 261.68,588.30 264.40,586.80 C267.12,585.30 269.88,583.92 272.60,582.70 C275.32,581.48 278.00,580.58 280.70,579.50 C283.40,578.42 286.08,577.10 288.80,576.20 C291.52,575.30 294.28,574.57 297.00,574.10 C299.72,573.63 302.67,573.32 305.10,573.40 C307.53,573.48 309.70,573.87 311.60,574.60 C313.50,575.33 315.22,576.32 316.50,577.80 C317.78,579.28 318.75,581.18 319.30,583.50 C319.85,585.82 319.85,588.72 319.80,591.70 C319.75,594.68 319.55,597.88 319.00,601.40 C318.45,604.92 317.47,608.73 316.50,612.80 C315.53,616.87 314.42,621.45 313.20,625.80 C311.98,630.15 310.55,634.82 309.20,638.90 C307.85,642.98 306.60,646.78 305.10,650.30 C303.60,653.82 302.10,657.02 300.20,660.00 C298.30,662.98 296.13,665.75 293.70,668.20 C291.27,670.65 288.58,672.80 285.60,674.70 C282.62,676.60 279.33,678.12 275.80,679.60 C272.27,681.08 268.20,682.52 264.40,683.60 C260.60,684.68 257.07,685.15 253.00,686.10 C248.93,687.05 244.03,688.07 240.00,689.30 C235.97,690.53 232.18,691.82 228.80,693.50 C225.42,695.18 222.75,696.15 219.70,699.40 C216.65,702.65 212.97,709.57 210.50,713.00 C208.03,716.43 207.05,717.37 204.90,720.00 C202.75,722.63 200.77,725.63 197.60,728.80 C194.43,731.97 189.80,736.08 185.90,739.00 C182.00,741.92 177.60,743.87 174.20,746.30 C170.80,748.73 168.17,750.93 165.50,753.60 C162.83,756.27 160.40,759.38 158.20,762.30 C156.00,765.22 154.25,768.42 152.30,771.10 C150.35,773.78 148.68,776.22 146.50,778.40 C144.32,780.58 141.63,782.50 139.20,784.20 C136.77,785.90 134.33,787.38 131.90,788.60 C129.47,789.82 127.03,790.77 124.60,791.50 C122.17,792.23 119.73,792.63 117.30,793.00 C114.87,793.37 114.12,793.52 110.00,793.70 C105.88,793.88 97.77,794.07 92.60,794.10 C87.43,794.13 84.18,794.30 79.00,793.90 C73.82,793.50 65.87,792.80 61.50,791.70 C57.13,790.60 54.98,789.35 52.80,787.30 C50.62,785.25 49.50,782.90 48.40,779.40 C47.30,775.90 46.58,771.20 46.20,766.30 C45.82,761.40 46.18,754.17 46.10,750.00 C46.02,745.83 45.73,745.67 45.70,741.30 C45.67,736.93 45.68,728.43 45.90,723.80 C46.12,719.17 46.45,715.87 47.00,713.50 C47.55,711.13 48.32,710.47 49.20,709.60 C50.08,708.73 51.00,708.53 52.30,708.30Z" fill="#008a8a" stroke="#2a1a17" stroke-width="0.8"/>
<path d="M51.90,756.60 C53.02,755.60 54.77,754.87 57.10,754.00 C59.43,753.13 62.25,752.42 65.90,751.40 C69.55,750.38 74.62,749.22 79.00,747.90 C83.38,746.58 88.03,744.90 92.20,743.50 C96.37,742.10 101.03,740.62 104.00,739.50 C106.97,738.38 107.78,738.13 110.00,736.80 C112.22,735.47 115.35,732.97 117.30,731.50 C119.25,730.03 120.50,728.72 121.70,728.00 C122.90,727.28 123.53,726.83 124.50,727.20 C125.47,727.57 126.52,728.97 127.50,730.20 C128.48,731.43 129.67,732.65 130.40,734.60 C131.13,736.55 131.40,738.25 131.90,741.90 C132.40,745.55 132.92,751.63 133.40,756.50 C133.88,761.37 134.37,766.97 134.80,771.10 C135.23,775.23 136.00,778.75 136.00,781.30 C136.00,783.85 135.73,785.30 134.80,786.40 C133.87,787.50 132.10,787.57 130.40,787.90 C128.70,788.23 128.00,788.25 124.60,788.40 C121.20,788.55 115.77,788.62 110.00,788.80 C104.23,788.98 96.62,789.32 90.00,789.50 C83.38,789.68 75.33,789.98 70.30,789.90 C65.27,789.82 62.43,789.58 59.80,789.00 C57.17,788.42 55.97,787.70 54.50,786.40 C53.03,785.10 51.73,783.10 51.00,781.20 C50.27,779.30 50.27,777.48 50.10,775.00 C49.93,772.52 49.95,768.80 50.00,766.30 C50.05,763.80 50.08,761.62 50.40,760.00 C50.72,758.38 50.78,757.60 51.90,756.60Z" fill="#ea971d" stroke="#2a1a17" stroke-width="0.8"/>
<path d="M53.10,720.00 C53.33,723.33 54.10,734.67 54.50,740.00 C54.90,745.33 55.00,747.00 55.50,752.00 C56.00,757.00 56.42,765.67 57.50,770.00 C58.58,774.33 59.92,777.67 62.00,778.00 C64.08,778.33 64.83,775.42 70.00,772.00 C75.17,768.58 87.33,761.23 93.00,757.50 C98.67,753.77 102.17,750.92 104.00,749.60" fill="none" stroke="#261611" stroke-width="2.6" stroke-linejoin="round"/>
<path d="M104.00,749.60 L177.70,690.00 L303.50,590.00" fill="none" stroke="#261611" stroke-width="2.6" stroke-linejoin="round"/>
<path d="M52.30,708.30 L60.70,724.50 L53.60,723.00 L46.30,725.50Z" fill="#261611"/>
<rect x="51.90" y="714.70" width="6.0" height="6.0" fill="#b5b7b9" stroke="#231f20" stroke-width="0.9"/>
<rect x="52.80" y="726.90" width="6.0" height="6.0" fill="#b5b7b9" stroke="#231f20" stroke-width="0.9"/>
<rect x="52.40" y="748.80" width="6.0" height="6.0" fill="#b5b7b9" stroke="#231f20" stroke-width="0.9"/>
<rect x="122.00" y="707.10" width="6.0" height="6.0" fill="#b5b7b9" stroke="#231f20" stroke-width="0.9"/>
<rect x="152.60" y="707.70" width="6.0" height="6.0" fill="#b5b7b9" stroke="#231f20" stroke-width="0.9"/>
<rect x="133.40" y="718.20" width="6.0" height="6.0" fill="#b5b7b9" stroke="#231f20" stroke-width="0.9"/>
<rect x="140.40" y="714.70" width="6.0" height="6.0" fill="#b5b7b9" stroke="#231f20" stroke-width="0.9"/>
<rect x="141.20" y="720.80" width="6.0" height="6.0" fill="#b5b7b9" stroke="#231f20" stroke-width="0.9"/>
<rect x="134.20" y="727.80" width="6.0" height="6.0" fill="#b5b7b9" stroke="#231f20" stroke-width="0.9"/>
<rect x="143.90" y="739.20" width="6.0" height="6.0" fill="#b5b7b9" stroke="#231f20" stroke-width="0.9"/>
<rect x="128.10" y="746.20" width="6.0" height="6.0" fill="#b5b7b9" stroke="#231f20" stroke-width="0.9"/>
<rect x="122.80" y="755.80" width="6.0" height="6.0" fill="#b5b7b9" stroke="#231f20" stroke-width="0.9"/>
<rect x="111.50" y="749.20" width="6.0" height="6.0" fill="#b5b7b9" stroke="#231f20" stroke-width="0.9"/>
<rect x="110.60" y="767.20" width="6.0" height="6.0" fill="#b5b7b9" stroke="#231f20" stroke-width="0.9"/>
<rect x="95.70" y="753.20" width="6.0" height="6.0" fill="#b5b7b9" stroke="#231f20" stroke-width="0.9"/>
<rect x="102.70" y="754.10" width="6.0" height="6.0" fill="#b5b7b9" stroke="#231f20" stroke-width="0.9"/>
<rect x="107.10" y="756.70" width="6.0" height="6.0" fill="#b5b7b9" stroke="#231f20" stroke-width="0.9"/>
<rect x="96.60" y="762.00" width="6.0" height="6.0" fill="#b5b7b9" stroke="#231f20" stroke-width="0.9"/>
<rect x="101.80" y="761.10" width="6.0" height="6.0" fill="#b5b7b9" stroke="#231f20" stroke-width="0.9"/>
<rect x="101.80" y="766.30" width="6.0" height="6.0" fill="#b5b7b9" stroke="#231f20" stroke-width="0.9"/>
<rect x="90.40" y="760.20" width="6.0" height="6.0" fill="#b5b7b9" stroke="#231f20" stroke-width="0.9"/>
<rect x="88.70" y="766.30" width="6.0" height="6.0" fill="#b5b7b9" stroke="#231f20" stroke-width="0.9"/>
<rect x="80.80" y="767.20" width="6.0" height="6.0" fill="#b5b7b9" stroke="#231f20" stroke-width="0.9"/>
<rect x="73.80" y="767.20" width="6.0" height="6.0" fill="#b5b7b9" stroke="#231f20" stroke-width="0.9"/>
<rect x="86.90" y="772.50" width="6.0" height="6.0" fill="#b5b7b9" stroke="#231f20" stroke-width="0.9"/>
<rect x="136.90" y="689.30" width="6.0" height="6.0" fill="#b5b7b9" stroke="#231f20" stroke-width="0.9"/>
<rect x="141.20" y="686.60" width="6.0" height="6.0" fill="#b5b7b9" stroke="#231f20" stroke-width="0.9"/>
<rect x="143.90" y="680.50" width="6.0" height="6.0" fill="#b5b7b9" stroke="#231f20" stroke-width="0.9"/>
<rect x="149.10" y="677.90" width="6.0" height="6.0" fill="#b5b7b9" stroke="#231f20" stroke-width="0.9"/>
<rect x="68.50" y="776.00" width="6.0" height="6.0" fill="#b5b7b9" stroke="#231f20" stroke-width="0.9"/>
<rect x="65.00" y="780.40" width="6.0" height="6.0" fill="#b5b7b9" stroke="#231f20" stroke-width="0.9"/>
<rect x="54.50" y="778.60" width="6.0" height="6.0" fill="#b5b7b9" stroke="#231f20" stroke-width="0.9"/>
<rect x="53.60" y="782.10" width="6.0" height="6.0" fill="#b5b7b9" stroke="#231f20" stroke-width="0.9"/>
<rect x="55.40" y="755.00" width="6.0" height="6.0" fill="#b5b7b9" stroke="#231f20" stroke-width="0.9"/>
<rect x="58.90" y="762.80" width="6.0" height="6.0" fill="#b5b7b9" stroke="#231f20" stroke-width="0.9"/>
<rect x="158.00" y="663.40" width="6.0" height="6.0" fill="#b5b7b9" stroke="#231f20" stroke-width="0.9"/>
<rect x="173.30" y="668.20" width="6.0" height="6.0" fill="#b5b7b9" stroke="#231f20" stroke-width="0.9"/>
<rect x="171.40" y="674.20" width="6.0" height="6.0" fill="#b5b7b9" stroke="#231f20" stroke-width="0.9"/>
<rect x="154.40" y="672.60" width="6.0" height="6.0" fill="#b5b7b9" stroke="#231f20" stroke-width="0.9"/>
<rect x="149.60" y="677.40" width="6.0" height="6.0" fill="#b5b7b9" stroke="#231f20" stroke-width="0.9"/>
<rect x="152.80" y="707.60" width="6.0" height="6.0" fill="#b5b7b9" stroke="#231f20" stroke-width="0.9"/>
<rect x="168.80" y="712.00" width="6.0" height="6.0" fill="#b5b7b9" stroke="#231f20" stroke-width="0.9"/>
<rect x="169.60" y="719.40" width="6.0" height="6.0" fill="#b5b7b9" stroke="#231f20" stroke-width="0.9"/>
<rect x="158.80" y="663.50" width="6.0" height="6.0" fill="#b5b7b9" stroke="#231f20" stroke-width="0.9"/>
<rect x="174.10" y="668.20" width="6.0" height="6.0" fill="#b5b7b9" stroke="#231f20" stroke-width="0.9"/>
<rect x="142.50" y="671.50" width="6.0" height="6.0" fill="#b5b7b9" stroke="#231f20" stroke-width="0.9"/>
<rect x="149.60" y="677.30" width="6.0" height="6.0" fill="#b5b7b9" stroke="#231f20" stroke-width="0.9"/>
<rect x="145.40" y="680.70" width="6.0" height="6.0" fill="#b5b7b9" stroke="#231f20" stroke-width="0.9"/>
<rect x="155.30" y="672.50" width="6.0" height="6.0" fill="#b5b7b9" stroke="#231f20" stroke-width="0.9"/>
<rect x="141.00" y="686.50" width="6.0" height="6.0" fill="#b5b7b9" stroke="#231f20" stroke-width="0.9"/>
<rect x="137.70" y="688.80" width="6.0" height="6.0" fill="#b5b7b9" stroke="#231f20" stroke-width="0.9"/>
<rect x="121.80" y="707.00" width="6.0" height="6.0" fill="#b5b7b9" stroke="#231f20" stroke-width="0.9"/>
<rect x="141.50" y="714.60" width="6.0" height="6.0" fill="#b5b7b9" stroke="#231f20" stroke-width="0.9"/>
<rect x="133.90" y="720.40" width="6.0" height="6.0" fill="#b5b7b9" stroke="#231f20" stroke-width="0.9"/>
<rect x="138.10" y="721.30" width="6.0" height="6.0" fill="#b5b7b9" stroke="#231f20" stroke-width="0.9"/>
<rect x="133.90" y="727.10" width="6.0" height="6.0" fill="#b5b7b9" stroke="#231f20" stroke-width="0.9"/>
<rect x="144.40" y="739.20" width="6.0" height="6.0" fill="#b5b7b9" stroke="#231f20" stroke-width="0.9"/>
<rect x="128.10" y="746.30" width="6.0" height="6.0" fill="#b5b7b9" stroke="#231f20" stroke-width="0.9"/>
<rect x="122.80" y="755.80" width="6.0" height="6.0" fill="#b5b7b9" stroke="#231f20" stroke-width="0.9"/>
<circle cx="155.60" cy="694.90" r="3.4" fill="#fff" stroke="#231f20" stroke-width="0.7"/>
<circle cx="141.30" cy="705.40" r="3.4" fill="#fff" stroke="#231f20" stroke-width="0.7"/>
<circle cx="134.10" cy="711.50" r="3.4" fill="#fff" stroke="#231f20" stroke-width="0.7"/>
<circle cx="115.70" cy="746.60" r="3.4" fill="#fff" stroke="#231f20" stroke-width="0.7"/>
<circle cx="135.50" cy="719.40" r="3.4" fill="#fff" stroke="#231f20" stroke-width="0.7"/>
<circle cx="305.80" cy="587.90" r="3.4" fill="#fff" stroke="#231f20" stroke-width="0.7"/>
<circle cx="293.20" cy="594.20" r="3.4" fill="#fff" stroke="#231f20" stroke-width="0.7"/>
<circle cx="278.70" cy="602.30" r="3.4" fill="#fff" stroke="#231f20" stroke-width="0.7"/>
<circle cx="277.40" cy="618.60" r="3.4" fill="#fff" stroke="#231f20" stroke-width="0.7"/>
<circle cx="263.00" cy="623.90" r="3.4" fill="#fff" stroke="#231f20" stroke-width="0.7"/>
<circle cx="241.40" cy="630.40" r="3.4" fill="#fff" stroke="#231f20" stroke-width="0.7"/>
<circle cx="296.60" cy="641.70" r="3.4" fill="#fff" stroke="#231f20" stroke-width="0.7"/>
<circle cx="291.90" cy="651.50" r="3.4" fill="#fff" stroke="#231f20" stroke-width="0.7"/>
<circle cx="294.50" cy="652.00" r="3.4" fill="#fff" stroke="#231f20" stroke-width="0.7"/>
<circle cx="192.00" cy="662.50" r="3.4" fill="#fff" stroke="#231f20" stroke-width="0.7"/>
<circle cx="222.80" cy="669.80" r="3.4" fill="#fff" stroke="#231f20" stroke-width="0.7"/>
<circle cx="189.40" cy="675.60" r="3.4" fill="#fff" stroke="#231f20" stroke-width="0.7"/>
<circle cx="197.80" cy="680.90" r="3.4" fill="#fff" stroke="#231f20" stroke-width="0.7"/>
<circle cx="199.90" cy="683.80" r="3.4" fill="#fff" stroke="#231f20" stroke-width="0.7"/>
<circle cx="194.70" cy="690.30" r="3.4" fill="#fff" stroke="#231f20" stroke-width="0.7"/>
<circle cx="192.00" cy="694.80" r="3.4" fill="#fff" stroke="#231f20" stroke-width="0.7"/>
<circle cx="173.10" cy="702.20" r="3.4" fill="#fff" stroke="#231f20" stroke-width="0.7"/>
<circle cx="202.00" cy="700.60" r="3.4" fill="#fff" stroke="#231f20" stroke-width="0.7"/>
<circle cx="204.40" cy="704.00" r="3.4" fill="#fff" stroke="#231f20" stroke-width="0.7"/>
<circle cx="198.60" cy="711.90" r="3.4" fill="#fff" stroke="#231f20" stroke-width="0.7"/>
<circle cx="197.80" cy="719.00" r="3.4" fill="#fff" stroke="#231f20" stroke-width="0.7"/>
<circle cx="160.50" cy="674.60" r="3.4" fill="#fff" stroke="#231f20" stroke-width="0.7"/>
<circle cx="151.30" cy="676.40" r="3.4" fill="#fff" stroke="#231f20" stroke-width="0.7"/>
<circle cx="172.70" cy="702.30" r="3.4" fill="#fff" stroke="#231f20" stroke-width="0.7"/>
<circle cx="156.00" cy="695.00" r="3.4" fill="#fff" stroke="#231f20" stroke-width="0.7"/>
<circle cx="141.50" cy="705.20" r="3.4" fill="#fff" stroke="#231f20" stroke-width="0.7"/>
<circle cx="133.80" cy="711.90" r="3.4" fill="#fff" stroke="#231f20" stroke-width="0.7"/>
<path d="M123.70,729.70 L127.90,736.70 L119.50,736.70Z" fill="#eea9ae" stroke="#231f20" stroke-width="0.7"/>
<path d="M121.50,734.10 L125.70,741.10 L117.30,741.10Z" fill="#eea9ae" stroke="#231f20" stroke-width="0.7"/>
<path d="M125.80,736.70 L130.00,743.70 L121.60,743.70Z" fill="#eea9ae" stroke="#231f20" stroke-width="0.7"/>
<path d="M122.30,738.50 L126.50,745.50 L118.10,745.50Z" fill="#eea9ae" stroke="#231f20" stroke-width="0.7"/>
<path d="M61.00,780.50 L65.20,787.50 L56.80,787.50Z" fill="#eea9ae" stroke="#231f20" stroke-width="0.7"/>
<path d="M57.50,781.40 L61.70,788.40 L53.30,788.40Z" fill="#eea9ae" stroke="#231f20" stroke-width="0.7"/>
<path d="M126.70,736.90 L130.90,743.90 L122.50,743.90Z" fill="#eea9ae" stroke="#231f20" stroke-width="0.7"/>
<path d="M56.80,757.30 L65.20,757.30 L61.00,764.30Z" fill="#f08c1e" stroke="#231f20" stroke-width="0.7"/>
<path d="M127.10,779.20 L135.50,779.20 L131.30,786.20Z" fill="#f08c1e" stroke="#231f20" stroke-width="0.7"/>
<path d="M70.80,772.20 L79.20,772.20 L75.00,779.20Z" fill="#f08c1e" stroke="#231f20" stroke-width="0.7"/>
<path d="M60.30,773.90 L68.70,773.90 L64.50,780.90Z" fill="#f08c1e" stroke="#231f20" stroke-width="0.7"/>
<path d="M82.00,745.90 L86.20,750.10 L82.00,754.30 L77.80,750.10Z" fill="#e8333d" stroke="#231f20" stroke-width="0.7"/>
<path d="M86.40,745.00 L90.60,749.20 L86.40,753.40 L82.20,749.20Z" fill="#e8333d" stroke="#231f20" stroke-width="0.7"/>
<path d="M89.40,744.50 L93.60,748.70 L89.40,752.90 L85.20,748.70Z" fill="#e8333d" stroke="#231f20" stroke-width="0.7"/>
<path d="M55.80,759.50 L60.00,763.70 L55.80,767.90 L51.60,763.70Z" fill="#e8333d" stroke="#231f20" stroke-width="0.7"/>
<path d="M71.20,757.30 L75.40,761.50 L71.20,765.70 L67.00,761.50Z" fill="#e8333d" stroke="#231f20" stroke-width="0.7"/>
<path d="M61.00,768.30 L65.20,772.50 L61.00,776.70 L56.80,772.50Z" fill="#e8333d" stroke="#231f20" stroke-width="0.7"/>
<path d="M69.40,766.00 L73.60,770.20 L69.40,774.40 L65.20,770.20Z" fill="#e8333d" stroke="#231f20" stroke-width="0.7"/>
<path d="M87.30,762.00 L91.50,766.20 L87.30,770.40 L83.10,766.20Z" fill="#e8333d" stroke="#231f20" stroke-width="0.7"/>
<text x="314.20" y="787.50" font-size="21.5" text-anchor="middle" fill="#2e1c19" >e</text>
<path d="M404.90,582.40 C406.65,581.25 410.32,580.33 412.80,580.10 C415.28,579.87 417.47,580.18 419.80,581.00 C422.13,581.82 424.47,582.87 426.80,585.00 C429.13,587.13 431.75,590.58 433.80,593.80 C435.85,597.02 437.63,600.50 439.10,604.30 C440.57,608.10 441.58,612.52 442.60,616.60 C443.62,620.68 444.33,624.43 445.20,628.80 C446.07,633.17 446.93,638.42 447.80,642.80 C448.67,647.18 449.35,650.57 450.40,655.10 C451.45,659.63 452.47,664.78 454.10,670.00 C455.73,675.22 458.17,681.28 460.20,686.40 C462.23,691.52 464.25,696.28 466.30,700.70 C468.35,705.12 470.45,709.33 472.50,712.90 C474.55,716.47 476.38,719.37 478.60,722.10 C480.82,724.83 483.25,727.17 485.80,729.30 C488.35,731.43 491.02,733.37 493.90,734.90 C496.78,736.43 500.20,737.65 503.10,738.50 C506.00,739.35 508.65,739.75 511.30,740.00 C513.95,740.25 516.50,740.28 519.00,740.00 C521.50,739.72 522.80,739.27 526.30,738.30 C529.80,737.33 536.13,735.52 540.00,734.20 C543.87,732.88 544.75,732.15 549.50,730.40 C554.25,728.65 560.60,726.08 568.50,723.70 C576.40,721.32 587.42,718.32 596.90,716.10 C606.38,713.88 617.80,711.78 625.40,710.40 C633.00,709.02 637.78,707.73 642.50,707.80 C647.22,707.87 650.95,709.18 653.70,710.80 C656.45,712.42 658.07,715.47 659.00,717.50 C659.93,719.53 659.75,720.92 659.30,723.00 C658.85,725.08 657.20,728.13 656.30,730.00 C655.40,731.87 655.88,732.25 653.90,734.20 C651.92,736.15 649.15,739.02 644.40,741.70 C639.65,744.38 631.73,747.60 625.40,750.30 C619.07,753.00 612.73,755.22 606.40,757.90 C600.07,760.58 593.72,763.55 587.40,766.40 C581.08,769.25 574.82,772.47 568.50,775.00 C562.18,777.53 554.25,780.00 549.50,781.60 C544.75,783.20 543.87,783.40 540.00,784.60 C536.13,785.80 530.78,787.75 526.30,788.80 C521.82,789.85 517.48,790.37 513.10,790.90 C508.72,791.43 504.45,791.85 500.00,792.00 C495.55,792.15 491.60,792.28 486.40,791.80 C481.20,791.32 474.35,790.42 468.80,789.10 C463.25,787.78 458.05,785.93 453.10,783.90 C448.15,781.87 443.78,779.82 439.10,776.90 C434.42,773.98 429.10,770.20 425.00,766.40 C420.90,762.60 417.42,758.48 414.50,754.10 C411.58,749.72 409.40,745.35 407.50,740.10 C405.60,734.85 404.27,728.45 403.10,722.60 C401.93,716.75 401.17,710.85 400.50,705.00 C399.83,699.15 399.45,693.48 399.10,687.50 C398.75,681.52 398.45,675.08 398.40,669.10 C398.35,663.12 398.68,657.43 398.80,651.60 C398.92,645.77 398.97,639.93 399.10,634.10 C399.23,628.27 399.30,622.45 399.60,616.60 C399.90,610.75 400.45,603.93 400.90,599.00 C401.35,594.07 401.63,589.77 402.30,587.00 C402.97,584.23 403.15,583.55 404.90,582.40Z" fill="#008a8a" stroke="#2a1a17" stroke-width="0.8"/>
<path d="M422.40,729.60 C422.98,728.80 423.68,728.57 425.00,728.70 C426.32,728.83 428.25,729.38 430.30,730.40 C432.35,731.42 434.67,733.18 437.30,734.80 C439.93,736.42 442.88,738.93 446.10,740.10 C449.32,741.27 452.82,741.45 456.60,741.80 C460.38,742.15 464.72,742.20 468.80,742.20 C472.88,742.20 476.72,741.72 481.10,741.80 C485.48,741.88 491.12,742.08 495.10,742.70 C499.08,743.32 502.00,743.90 505.00,745.50 C508.00,747.10 509.55,750.52 513.10,752.30 C516.65,754.08 521.48,755.20 526.30,756.20 C531.12,757.20 537.85,757.65 542.00,758.30 C546.15,758.95 549.00,759.13 551.20,760.10 C553.40,761.07 554.75,762.57 555.20,764.10 C555.65,765.63 555.00,767.90 553.90,769.30 C552.80,770.70 551.02,771.27 548.60,772.50 C546.18,773.73 543.12,775.25 539.40,776.70 C535.68,778.15 530.68,779.80 526.30,781.20 C521.92,782.60 517.48,784.02 513.10,785.10 C508.72,786.18 503.00,787.03 500.00,787.70 C497.00,788.37 498.83,789.15 495.10,789.10 C491.37,789.05 482.85,788.57 477.60,787.40 C472.35,786.23 467.98,784.43 463.60,782.10 C459.22,779.77 455.38,776.60 451.30,773.40 C447.22,770.20 442.90,766.42 439.10,762.90 C435.30,759.38 431.13,755.52 428.50,752.30 C425.87,749.08 424.47,746.73 423.30,743.60 C422.13,740.47 421.65,735.83 421.50,733.50 C421.35,731.17 421.82,730.40 422.40,729.60Z" fill="#ea971d" stroke="#2a1a17" stroke-width="0.8"/>
<path d="M414.50,595.50 C415.08,598.43 416.83,607.25 418.00,613.10 C419.17,618.95 420.33,624.18 421.50,630.60 C422.67,637.02 423.97,645.03 425.00,651.60 C426.03,658.17 426.67,664.02 427.70,670.00 C428.73,675.98 430.03,681.67 431.20,687.50 C432.37,693.33 433.38,699.15 434.70,705.00 C436.02,710.85 437.20,716.75 439.10,722.60 C441.00,728.45 443.48,735.73 446.10,740.10 C448.72,744.47 451.60,746.18 454.80,748.80 C458.00,751.42 461.50,753.75 465.30,755.80 C469.10,757.85 473.22,759.78 477.60,761.10 C481.98,762.42 487.87,763.02 491.60,763.70 C495.33,764.38 496.42,764.92 500.00,765.20 C503.58,765.48 508.72,765.58 513.10,765.40 C517.48,765.22 521.03,764.45 526.30,764.10 C531.57,763.75 539.02,764.07 544.70,763.30 C550.38,762.53 553.60,761.83 560.40,759.50 C567.20,757.17 576.25,753.37 585.50,749.30 C594.75,745.23 607.32,739.73 615.90,735.10 C624.48,730.47 633.48,723.77 637.00,721.50" fill="none" stroke="#261611" stroke-width="2.5" stroke-linejoin="round"/>
<path d="M650.30,713.50 L638.80,727.00 L638.50,720.50 L632.40,715.40Z" fill="#261611"/>
<rect x="408.40" y="663.00" width="6.0" height="6.0" fill="#b5b7b9" stroke="#231f20" stroke-width="0.9"/>
<rect x="412.40" y="667.90" width="6.0" height="6.0" fill="#b5b7b9" stroke="#231f20" stroke-width="0.9"/>
<rect x="405.90" y="671.40" width="6.0" height="6.0" fill="#b5b7b9" stroke="#231f20" stroke-width="0.9"/>
<rect x="415.00" y="674.00" width="6.0" height="6.0" fill="#b5b7b9" stroke="#231f20" stroke-width="0.9"/>
<rect x="409.80" y="676.60" width="6.0" height="6.0" fill="#b5b7b9" stroke="#231f20" stroke-width="0.9"/>
<rect x="408.00" y="681.00" width="6.0" height="6.0" fill="#b5b7b9" stroke="#231f20" stroke-width="0.9"/>
<rect x="412.40" y="686.30" width="6.0" height="6.0" fill="#b5b7b9" stroke="#231f20" stroke-width="0.9"/>
<rect x="428.70" y="688.90" width="6.0" height="6.0" fill="#b5b7b9" stroke="#231f20" stroke-width="0.9"/>
<rect x="420.80" y="707.30" width="6.0" height="6.0" fill="#b5b7b9" stroke="#231f20" stroke-width="0.9"/>
<rect x="431.10" y="712.90" width="6.0" height="6.0" fill="#b5b7b9" stroke="#231f20" stroke-width="0.9"/>
<rect x="423.80" y="714.00" width="6.0" height="6.0" fill="#b5b7b9" stroke="#231f20" stroke-width="0.9"/>
<rect x="427.30" y="717.80" width="6.0" height="6.0" fill="#b5b7b9" stroke="#231f20" stroke-width="0.9"/>
<rect x="412.40" y="719.20" width="6.0" height="6.0" fill="#b5b7b9" stroke="#231f20" stroke-width="0.9"/>
<rect x="422.90" y="720.40" width="6.0" height="6.0" fill="#b5b7b9" stroke="#231f20" stroke-width="0.9"/>
<rect x="428.70" y="727.40" width="6.0" height="6.0" fill="#b5b7b9" stroke="#231f20" stroke-width="0.9"/>
<rect x="448.30" y="719.60" width="6.0" height="6.0" fill="#b5b7b9" stroke="#231f20" stroke-width="0.9"/>
<rect x="445.30" y="732.70" width="6.0" height="6.0" fill="#b5b7b9" stroke="#231f20" stroke-width="0.9"/>
<rect x="457.10" y="738.80" width="6.0" height="6.0" fill="#b5b7b9" stroke="#231f20" stroke-width="0.9"/>
<rect x="464.10" y="745.80" width="6.0" height="6.0" fill="#b5b7b9" stroke="#231f20" stroke-width="0.9"/>
<rect x="466.70" y="754.60" width="6.0" height="6.0" fill="#b5b7b9" stroke="#231f20" stroke-width="0.9"/>
<rect x="458.00" y="762.50" width="6.0" height="6.0" fill="#b5b7b9" stroke="#231f20" stroke-width="0.9"/>
<rect x="452.70" y="768.30" width="6.0" height="6.0" fill="#b5b7b9" stroke="#231f20" stroke-width="0.9"/>
<rect x="458.80" y="768.60" width="6.0" height="6.0" fill="#b5b7b9" stroke="#231f20" stroke-width="0.9"/>
<rect x="468.50" y="759.00" width="6.0" height="6.0" fill="#b5b7b9" stroke="#231f20" stroke-width="0.9"/>
<rect x="478.10" y="749.30" width="6.0" height="6.0" fill="#b5b7b9" stroke="#231f20" stroke-width="0.9"/>
<rect x="494.70" y="756.30" width="6.0" height="6.0" fill="#b5b7b9" stroke="#231f20" stroke-width="0.9"/>
<rect x="482.50" y="765.10" width="6.0" height="6.0" fill="#b5b7b9" stroke="#231f20" stroke-width="0.9"/>
<rect x="484.20" y="775.60" width="6.0" height="6.0" fill="#b5b7b9" stroke="#231f20" stroke-width="0.9"/>
<rect x="482.50" y="781.80" width="6.0" height="6.0" fill="#b5b7b9" stroke="#231f20" stroke-width="0.9"/>
<rect x="464.10" y="765.10" width="6.0" height="6.0" fill="#b5b7b9" stroke="#231f20" stroke-width="0.9"/>
<rect x="469.30" y="766.90" width="6.0" height="6.0" fill="#b5b7b9" stroke="#231f20" stroke-width="0.9"/>
<rect x="562.70" y="726.90" width="6.0" height="6.0" fill="#b5b7b9" stroke="#231f20" stroke-width="0.9"/>
<rect x="578.50" y="726.40" width="6.0" height="6.0" fill="#b5b7b9" stroke="#231f20" stroke-width="0.9"/>
<rect x="583.20" y="749.30" width="6.0" height="6.0" fill="#b5b7b9" stroke="#231f20" stroke-width="0.9"/>
<rect x="575.80" y="761.10" width="6.0" height="6.0" fill="#b5b7b9" stroke="#231f20" stroke-width="0.9"/>
<rect x="638.90" y="714.60" width="6.0" height="6.0" fill="#b5b7b9" stroke="#231f20" stroke-width="0.9"/>
<rect x="524.60" y="755.80" width="6.0" height="6.0" fill="#b5b7b9" stroke="#231f20" stroke-width="0.9"/>
<rect x="510.10" y="762.40" width="6.0" height="6.0" fill="#b5b7b9" stroke="#231f20" stroke-width="0.9"/>
<rect x="525.40" y="768.40" width="6.0" height="6.0" fill="#b5b7b9" stroke="#231f20" stroke-width="0.9"/>
<circle cx="416.30" cy="587.70" r="3.4" fill="#fff" stroke="#231f20" stroke-width="0.7"/>
<circle cx="411.90" cy="594.10" r="3.4" fill="#fff" stroke="#231f20" stroke-width="0.7"/>
<circle cx="411.00" cy="602.20" r="3.4" fill="#fff" stroke="#231f20" stroke-width="0.7"/>
<circle cx="415.40" cy="618.30" r="3.4" fill="#fff" stroke="#231f20" stroke-width="0.7"/>
<circle cx="435.00" cy="623.90" r="3.4" fill="#fff" stroke="#231f20" stroke-width="0.7"/>
<circle cx="425.00" cy="630.20" r="3.4" fill="#fff" stroke="#231f20" stroke-width="0.7"/>
<circle cx="416.30" cy="642.00" r="3.4" fill="#fff" stroke="#231f20" stroke-width="0.7"/>
<circle cx="424.20" cy="651.60" r="3.4" fill="#fff" stroke="#231f20" stroke-width="0.7"/>
<circle cx="433.30" cy="651.60" r="3.4" fill="#fff" stroke="#231f20" stroke-width="0.7"/>
<circle cx="414.00" cy="662.60" r="3.4" fill="#fff" stroke="#231f20" stroke-width="0.7"/>
<circle cx="436.40" cy="669.60" r="3.4" fill="#fff" stroke="#231f20" stroke-width="0.7"/>
<circle cx="425.00" cy="674.90" r="3.4" fill="#fff" stroke="#231f20" stroke-width="0.7"/>
<circle cx="436.40" cy="680.50" r="3.4" fill="#fff" stroke="#231f20" stroke-width="0.7"/>
<circle cx="444.80" cy="683.40" r="3.4" fill="#fff" stroke="#231f20" stroke-width="0.7"/>
<circle cx="421.50" cy="694.50" r="3.4" fill="#fff" stroke="#231f20" stroke-width="0.7"/>
<circle cx="425.00" cy="695.10" r="3.4" fill="#fff" stroke="#231f20" stroke-width="0.7"/>
<circle cx="438.20" cy="702.40" r="3.4" fill="#fff" stroke="#231f20" stroke-width="0.7"/>
<circle cx="456.20" cy="701.50" r="3.4" fill="#fff" stroke="#231f20" stroke-width="0.7"/>
<circle cx="453.90" cy="704.70" r="3.4" fill="#fff" stroke="#231f20" stroke-width="0.7"/>
<circle cx="459.70" cy="704.20" r="3.4" fill="#fff" stroke="#231f20" stroke-width="0.7"/>
<circle cx="459.70" cy="711.70" r="3.4" fill="#fff" stroke="#231f20" stroke-width="0.7"/>
<circle cx="461.80" cy="718.50" r="3.4" fill="#fff" stroke="#231f20" stroke-width="0.7"/>
<circle cx="417.20" cy="705.00" r="3.4" fill="#fff" stroke="#231f20" stroke-width="0.7"/>
<circle cx="411.50" cy="711.70" r="3.4" fill="#fff" stroke="#231f20" stroke-width="0.7"/>
<circle cx="419.80" cy="717.00" r="3.4" fill="#fff" stroke="#231f20" stroke-width="0.7"/>
<circle cx="421.20" cy="746.70" r="3.4" fill="#fff" stroke="#231f20" stroke-width="0.7"/>
<path d="M428.20,729.40 L432.40,736.40 L424.00,736.40Z" fill="#eea9ae" stroke="#231f20" stroke-width="0.7"/>
<path d="M432.00,733.70 L436.20,740.70 L427.80,740.70Z" fill="#eea9ae" stroke="#231f20" stroke-width="0.7"/>
<path d="M432.00,738.10 L436.20,745.10 L427.80,745.10Z" fill="#eea9ae" stroke="#231f20" stroke-width="0.7"/>
<path d="M493.40,780.20 L497.60,787.20 L489.20,787.20Z" fill="#eea9ae" stroke="#231f20" stroke-width="0.7"/>
<path d="M502.10,781.10 L506.30,788.10 L497.90,788.10Z" fill="#eea9ae" stroke="#231f20" stroke-width="0.7"/>
<path d="M501.40,757.80 L509.80,757.80 L505.60,764.80Z" fill="#f08c1e" stroke="#231f20" stroke-width="0.7"/>
<path d="M480.40,770.90 L488.80,770.90 L484.60,777.90Z" fill="#f08c1e" stroke="#231f20" stroke-width="0.7"/>
<path d="M490.90,768.30 L499.30,768.30 L495.10,775.30Z" fill="#f08c1e" stroke="#231f20" stroke-width="0.7"/>
<path d="M474.30,778.80 L482.70,778.80 L478.50,785.80Z" fill="#f08c1e" stroke="#231f20" stroke-width="0.7"/>
<path d="M492.70,773.60 L501.10,773.60 L496.90,780.60Z" fill="#f08c1e" stroke="#231f20" stroke-width="0.7"/>
<path d="M499.70,756.80 L508.10,756.80 L503.90,763.80Z" fill="#f08c1e" stroke="#231f20" stroke-width="0.7"/>
<path d="M515.50,772.60 L523.90,772.60 L519.70,779.60Z" fill="#f08c1e" stroke="#231f20" stroke-width="0.7"/>
<path d="M472.30,746.40 L476.50,750.60 L472.30,754.80 L468.10,750.60Z" fill="#e8333d" stroke="#231f20" stroke-width="0.7"/>
<path d="M486.40,746.00 L490.60,750.20 L486.40,754.40 L482.20,750.20Z" fill="#e8333d" stroke="#231f20" stroke-width="0.7"/>
<path d="M494.20,745.00 L498.40,749.20 L494.20,753.40 L490.00,749.20Z" fill="#e8333d" stroke="#231f20" stroke-width="0.7"/>
<path d="M480.70,756.90 L484.90,761.10 L480.70,765.30 L476.50,761.10Z" fill="#e8333d" stroke="#231f20" stroke-width="0.7"/>
<path d="M479.30,766.50 L483.50,770.70 L479.30,774.90 L475.10,770.70Z" fill="#e8333d" stroke="#231f20" stroke-width="0.7"/>
<path d="M467.10,768.30 L471.30,772.50 L467.10,776.70 L462.90,772.50Z" fill="#e8333d" stroke="#231f20" stroke-width="0.7"/>
<path d="M498.60,762.20 L502.80,766.40 L498.60,770.60 L494.40,766.40Z" fill="#e8333d" stroke="#231f20" stroke-width="0.7"/>
<path d="M545.20,759.90 L549.40,764.10 L545.20,768.30 L541.00,764.10Z" fill="#e8333d" stroke="#231f20" stroke-width="0.7"/>
<path d="M500.00,762.50 L504.20,766.70 L500.00,770.90 L495.80,766.70Z" fill="#e8333d" stroke="#231f20" stroke-width="0.7"/>
<text x="666.40" y="791.30" font-size="21" text-anchor="middle" fill="#2e1c19" >f</text>
<rect x="40.5" y="280.5" width="286.00" height="236.00" fill="none" stroke="#231f20" stroke-width="1.1"/>
<line x1="40.5" y1="495.05" x2="44.80" y2="495.05" stroke="#2a2a2a" stroke-width="0.95"/>
<text x="37.90" y="498.95" font-size="13" text-anchor="end" fill="#1a1a1a" textLength="19.52" lengthAdjust="spacingAndGlyphs" >0.5</text>
<line x1="40.5" y1="452.14" x2="44.80" y2="452.14" stroke="#2a2a2a" stroke-width="0.95"/>
<text x="37.90" y="456.04" font-size="13" text-anchor="end" fill="#1a1a1a" textLength="19.52" lengthAdjust="spacingAndGlyphs" >1.0</text>
<line x1="40.5" y1="409.23" x2="44.80" y2="409.23" stroke="#2a2a2a" stroke-width="0.95"/>
<text x="37.90" y="413.13" font-size="13" text-anchor="end" fill="#1a1a1a" textLength="19.52" lengthAdjust="spacingAndGlyphs" >1.5</text>
<line x1="40.5" y1="366.32" x2="44.80" y2="366.32" stroke="#2a2a2a" stroke-width="0.95"/>
<text x="37.90" y="370.22" font-size="13" text-anchor="end" fill="#1a1a1a" textLength="19.52" lengthAdjust="spacingAndGlyphs" >2.0</text>
<line x1="40.5" y1="323.41" x2="44.80" y2="323.41" stroke="#2a2a2a" stroke-width="0.95"/>
<text x="37.90" y="327.31" font-size="13" text-anchor="end" fill="#1a1a1a" textLength="19.52" lengthAdjust="spacingAndGlyphs" >2.5</text>
<line x1="40.5" y1="280.50" x2="44.80" y2="280.50" stroke="#2a2a2a" stroke-width="0.95"/>
<text x="37.90" y="284.40" font-size="13" text-anchor="end" fill="#1a1a1a" textLength="19.52" lengthAdjust="spacingAndGlyphs" >3.0</text>
<line x1="40.5" y1="473.59" x2="42.80" y2="473.59" stroke="#2a2a2a" stroke-width="0.95"/>
<line x1="40.5" y1="430.68" x2="42.80" y2="430.68" stroke="#2a2a2a" stroke-width="0.95"/>
<line x1="40.5" y1="387.77" x2="42.80" y2="387.77" stroke="#2a2a2a" stroke-width="0.95"/>
<line x1="40.5" y1="344.86" x2="42.80" y2="344.86" stroke="#2a2a2a" stroke-width="0.95"/>
<line x1="40.5" y1="301.95" x2="42.80" y2="301.95" stroke="#2a2a2a" stroke-width="0.95"/>
<rect x="390.5" y="280.5" width="286.00" height="236.00" fill="none" stroke="#231f20" stroke-width="1.1"/>
<line x1="390.5" y1="495.05" x2="394.80" y2="495.05" stroke="#2a2a2a" stroke-width="0.95"/>
<text x="387.90" y="498.95" font-size="13" text-anchor="end" fill="#1a1a1a" textLength="19.52" lengthAdjust="spacingAndGlyphs" >0.5</text>
<line x1="390.5" y1="452.14" x2="394.80" y2="452.14" stroke="#2a2a2a" stroke-width="0.95"/>
<text x="387.90" y="456.04" font-size="13" text-anchor="end" fill="#1a1a1a" textLength="19.52" lengthAdjust="spacingAndGlyphs" >1.0</text>
<line x1="390.5" y1="409.23" x2="394.80" y2="409.23" stroke="#2a2a2a" stroke-width="0.95"/>
<text x="387.90" y="413.13" font-size="13" text-anchor="end" fill="#1a1a1a" textLength="19.52" lengthAdjust="spacingAndGlyphs" >1.5</text>
<line x1="390.5" y1="366.32" x2="394.80" y2="366.32" stroke="#2a2a2a" stroke-width="0.95"/>
<text x="387.90" y="370.22" font-size="13" text-anchor="end" fill="#1a1a1a" textLength="19.52" lengthAdjust="spacingAndGlyphs" >2.0</text>
<line x1="390.5" y1="323.41" x2="394.80" y2="323.41" stroke="#2a2a2a" stroke-width="0.95"/>
<text x="387.90" y="327.31" font-size="13" text-anchor="end" fill="#1a1a1a" textLength="19.52" lengthAdjust="spacingAndGlyphs" >2.5</text>
<line x1="390.5" y1="280.50" x2="394.80" y2="280.50" stroke="#2a2a2a" stroke-width="0.95"/>
<text x="387.90" y="284.40" font-size="13" text-anchor="end" fill="#1a1a1a" textLength="19.52" lengthAdjust="spacingAndGlyphs" >3.0</text>
<line x1="390.5" y1="473.59" x2="392.80" y2="473.59" stroke="#2a2a2a" stroke-width="0.95"/>
<line x1="390.5" y1="430.68" x2="392.80" y2="430.68" stroke="#2a2a2a" stroke-width="0.95"/>
<line x1="390.5" y1="387.77" x2="392.80" y2="387.77" stroke="#2a2a2a" stroke-width="0.95"/>
<line x1="390.5" y1="344.86" x2="392.80" y2="344.86" stroke="#2a2a2a" stroke-width="0.95"/>
<line x1="390.5" y1="301.95" x2="392.80" y2="301.95" stroke="#2a2a2a" stroke-width="0.95"/>
<rect x="40.5" y="564.5" width="286.00" height="236.00" fill="none" stroke="#231f20" stroke-width="1.1"/>
<line x1="40.5" y1="786.62" x2="44.80" y2="786.62" stroke="#2a2a2a" stroke-width="0.95"/>
<text x="37.90" y="790.52" font-size="13" text-anchor="end" fill="#1a1a1a" textLength="19.52" lengthAdjust="spacingAndGlyphs" >0.4</text>
<line x1="40.5" y1="758.85" x2="44.80" y2="758.85" stroke="#2a2a2a" stroke-width="0.95"/>
<text x="37.90" y="762.75" font-size="13" text-anchor="end" fill="#1a1a1a" textLength="19.52" lengthAdjust="spacingAndGlyphs" >0.8</text>
<line x1="40.5" y1="731.09" x2="44.80" y2="731.09" stroke="#2a2a2a" stroke-width="0.95"/>
<text x="37.90" y="734.99" font-size="13" text-anchor="end" fill="#1a1a1a" textLength="19.52" lengthAdjust="spacingAndGlyphs" >1.2</text>
<line x1="40.5" y1="703.32" x2="44.80" y2="703.32" stroke="#2a2a2a" stroke-width="0.95"/>
<text x="37.90" y="707.22" font-size="13" text-anchor="end" fill="#1a1a1a" textLength="19.52" lengthAdjust="spacingAndGlyphs" >1.6</text>
<line x1="40.5" y1="675.56" x2="44.80" y2="675.56" stroke="#2a2a2a" stroke-width="0.95"/>
<text x="37.90" y="679.46" font-size="13" text-anchor="end" fill="#1a1a1a" textLength="19.52" lengthAdjust="spacingAndGlyphs" >2.0</text>
<line x1="40.5" y1="647.79" x2="44.80" y2="647.79" stroke="#2a2a2a" stroke-width="0.95"/>
<text x="37.90" y="651.69" font-size="13" text-anchor="end" fill="#1a1a1a" textLength="19.52" lengthAdjust="spacingAndGlyphs" >2.4</text>
<line x1="40.5" y1="620.03" x2="44.80" y2="620.03" stroke="#2a2a2a" stroke-width="0.95"/>
<text x="37.90" y="623.93" font-size="13" text-anchor="end" fill="#1a1a1a" textLength="19.52" lengthAdjust="spacingAndGlyphs" >2.8</text>
<line x1="40.5" y1="592.26" x2="44.80" y2="592.26" stroke="#2a2a2a" stroke-width="0.95"/>
<text x="37.90" y="596.16" font-size="13" text-anchor="end" fill="#1a1a1a" textLength="19.52" lengthAdjust="spacingAndGlyphs" >3.2</text>
<line x1="40.5" y1="564.50" x2="44.80" y2="564.50" stroke="#2a2a2a" stroke-width="0.95"/>
<text x="37.90" y="568.40" font-size="13" text-anchor="end" fill="#1a1a1a" textLength="19.52" lengthAdjust="spacingAndGlyphs" >3.6</text>
<line x1="40.5" y1="772.74" x2="42.80" y2="772.74" stroke="#2a2a2a" stroke-width="0.95"/>
<line x1="40.5" y1="744.97" x2="42.80" y2="744.97" stroke="#2a2a2a" stroke-width="0.95"/>
<line x1="40.5" y1="717.21" x2="42.80" y2="717.21" stroke="#2a2a2a" stroke-width="0.95"/>
<line x1="40.5" y1="689.44" x2="42.80" y2="689.44" stroke="#2a2a2a" stroke-width="0.95"/>
<line x1="40.5" y1="661.68" x2="42.80" y2="661.68" stroke="#2a2a2a" stroke-width="0.95"/>
<line x1="40.5" y1="633.91" x2="42.80" y2="633.91" stroke="#2a2a2a" stroke-width="0.95"/>
<line x1="40.5" y1="606.15" x2="42.80" y2="606.15" stroke="#2a2a2a" stroke-width="0.95"/>
<line x1="40.5" y1="578.38" x2="42.80" y2="578.38" stroke="#2a2a2a" stroke-width="0.95"/>
<rect x="390.5" y="564.5" width="286.00" height="236.00" fill="none" stroke="#231f20" stroke-width="1.1"/>
<line x1="390.5" y1="786.62" x2="394.80" y2="786.62" stroke="#2a2a2a" stroke-width="0.95"/>
<text x="387.90" y="790.52" font-size="13" text-anchor="end" fill="#1a1a1a" textLength="19.52" lengthAdjust="spacingAndGlyphs" >0.4</text>
<line x1="390.5" y1="758.85" x2="394.80" y2="758.85" stroke="#2a2a2a" stroke-width="0.95"/>
<text x="387.90" y="762.75" font-size="13" text-anchor="end" fill="#1a1a1a" textLength="19.52" lengthAdjust="spacingAndGlyphs" >0.8</text>
<line x1="390.5" y1="731.09" x2="394.80" y2="731.09" stroke="#2a2a2a" stroke-width="0.95"/>
<text x="387.90" y="734.99" font-size="13" text-anchor="end" fill="#1a1a1a" textLength="19.52" lengthAdjust="spacingAndGlyphs" >1.2</text>
<line x1="390.5" y1="703.32" x2="394.80" y2="703.32" stroke="#2a2a2a" stroke-width="0.95"/>
<text x="387.90" y="707.22" font-size="13" text-anchor="end" fill="#1a1a1a" textLength="19.52" lengthAdjust="spacingAndGlyphs" >1.6</text>
<line x1="390.5" y1="675.56" x2="394.80" y2="675.56" stroke="#2a2a2a" stroke-width="0.95"/>
<text x="387.90" y="679.46" font-size="13" text-anchor="end" fill="#1a1a1a" textLength="19.52" lengthAdjust="spacingAndGlyphs" >2.0</text>
<line x1="390.5" y1="647.79" x2="394.80" y2="647.79" stroke="#2a2a2a" stroke-width="0.95"/>
<text x="387.90" y="651.69" font-size="13" text-anchor="end" fill="#1a1a1a" textLength="19.52" lengthAdjust="spacingAndGlyphs" >2.4</text>
<line x1="390.5" y1="620.03" x2="394.80" y2="620.03" stroke="#2a2a2a" stroke-width="0.95"/>
<text x="387.90" y="623.93" font-size="13" text-anchor="end" fill="#1a1a1a" textLength="19.52" lengthAdjust="spacingAndGlyphs" >2.8</text>
<line x1="390.5" y1="592.26" x2="394.80" y2="592.26" stroke="#2a2a2a" stroke-width="0.95"/>
<text x="387.90" y="596.16" font-size="13" text-anchor="end" fill="#1a1a1a" textLength="19.52" lengthAdjust="spacingAndGlyphs" >3.2</text>
<line x1="390.5" y1="564.50" x2="394.80" y2="564.50" stroke="#2a2a2a" stroke-width="0.95"/>
<text x="387.90" y="568.40" font-size="13" text-anchor="end" fill="#1a1a1a" textLength="19.52" lengthAdjust="spacingAndGlyphs" >3.6</text>
<line x1="390.5" y1="772.74" x2="392.80" y2="772.74" stroke="#2a2a2a" stroke-width="0.95"/>
<line x1="390.5" y1="744.97" x2="392.80" y2="744.97" stroke="#2a2a2a" stroke-width="0.95"/>
<line x1="390.5" y1="717.21" x2="392.80" y2="717.21" stroke="#2a2a2a" stroke-width="0.95"/>
<line x1="390.5" y1="689.44" x2="392.80" y2="689.44" stroke="#2a2a2a" stroke-width="0.95"/>
<line x1="390.5" y1="661.68" x2="392.80" y2="661.68" stroke="#2a2a2a" stroke-width="0.95"/>
<line x1="390.5" y1="633.91" x2="392.80" y2="633.91" stroke="#2a2a2a" stroke-width="0.95"/>
<line x1="390.5" y1="606.15" x2="392.80" y2="606.15" stroke="#2a2a2a" stroke-width="0.95"/>
<line x1="390.5" y1="578.38" x2="392.80" y2="578.38" stroke="#2a2a2a" stroke-width="0.95"/>
<line x1="54.80" y1="516.5" x2="54.80" y2="512.20" stroke="#2a2a2a" stroke-width="0.95"/>
<text x="54.50" y="530.60" font-size="13" text-anchor="middle" fill="#1a1a1a" textLength="19.52" lengthAdjust="spacingAndGlyphs" >0.0</text>
<line x1="83.40" y1="516.5" x2="83.40" y2="512.20" stroke="#2a2a2a" stroke-width="0.95"/>
<text x="83.10" y="530.60" font-size="13" text-anchor="middle" fill="#1a1a1a" textLength="19.52" lengthAdjust="spacingAndGlyphs" >0.5</text>
<line x1="112.00" y1="516.5" x2="112.00" y2="512.20" stroke="#2a2a2a" stroke-width="0.95"/>
<text x="111.70" y="530.60" font-size="13" text-anchor="middle" fill="#1a1a1a" textLength="19.52" lengthAdjust="spacingAndGlyphs" >1.0</text>
<line x1="140.60" y1="516.5" x2="140.60" y2="512.20" stroke="#2a2a2a" stroke-width="0.95"/>
<text x="140.30" y="530.60" font-size="13" text-anchor="middle" fill="#1a1a1a" textLength="19.52" lengthAdjust="spacingAndGlyphs" >1.5</text>
<line x1="169.20" y1="516.5" x2="169.20" y2="512.20" stroke="#2a2a2a" stroke-width="0.95"/>
<text x="168.90" y="530.60" font-size="13" text-anchor="middle" fill="#1a1a1a" textLength="19.52" lengthAdjust="spacingAndGlyphs" >2.0</text>
<line x1="197.80" y1="516.5" x2="197.80" y2="512.20" stroke="#2a2a2a" stroke-width="0.95"/>
<text x="197.50" y="530.60" font-size="13" text-anchor="middle" fill="#1a1a1a" textLength="19.52" lengthAdjust="spacingAndGlyphs" >2.5</text>
<line x1="226.40" y1="516.5" x2="226.40" y2="512.20" stroke="#2a2a2a" stroke-width="0.95"/>
<text x="226.10" y="530.60" font-size="13" text-anchor="middle" fill="#1a1a1a" textLength="19.52" lengthAdjust="spacingAndGlyphs" >3.0</text>
<line x1="255.00" y1="516.5" x2="255.00" y2="512.20" stroke="#2a2a2a" stroke-width="0.95"/>
<text x="254.70" y="530.60" font-size="13" text-anchor="middle" fill="#1a1a1a" textLength="19.52" lengthAdjust="spacingAndGlyphs" >3.5</text>
<line x1="283.60" y1="516.5" x2="283.60" y2="512.20" stroke="#2a2a2a" stroke-width="0.95"/>
<text x="283.30" y="530.60" font-size="13" text-anchor="middle" fill="#1a1a1a" textLength="19.52" lengthAdjust="spacingAndGlyphs" >4.0</text>
<line x1="312.20" y1="516.5" x2="312.20" y2="512.20" stroke="#2a2a2a" stroke-width="0.95"/>
<text x="311.90" y="530.60" font-size="13" text-anchor="middle" fill="#1a1a1a" textLength="19.52" lengthAdjust="spacingAndGlyphs" >4.5</text>
<line x1="69.10" y1="516.5" x2="69.10" y2="514.20" stroke="#2a2a2a" stroke-width="0.95"/>
<line x1="97.70" y1="516.5" x2="97.70" y2="514.20" stroke="#2a2a2a" stroke-width="0.95"/>
<line x1="126.30" y1="516.5" x2="126.30" y2="514.20" stroke="#2a2a2a" stroke-width="0.95"/>
<line x1="154.90" y1="516.5" x2="154.90" y2="514.20" stroke="#2a2a2a" stroke-width="0.95"/>
<line x1="183.50" y1="516.5" x2="183.50" y2="514.20" stroke="#2a2a2a" stroke-width="0.95"/>
<line x1="212.10" y1="516.5" x2="212.10" y2="514.20" stroke="#2a2a2a" stroke-width="0.95"/>
<line x1="240.70" y1="516.5" x2="240.70" y2="514.20" stroke="#2a2a2a" stroke-width="0.95"/>
<line x1="269.30" y1="516.5" x2="269.30" y2="514.20" stroke="#2a2a2a" stroke-width="0.95"/>
<line x1="297.90" y1="516.5" x2="297.90" y2="514.20" stroke="#2a2a2a" stroke-width="0.95"/>
<line x1="54.80" y1="800.5" x2="54.80" y2="796.20" stroke="#2a2a2a" stroke-width="0.95"/>
<text x="54.50" y="814.60" font-size="13" text-anchor="middle" fill="#1a1a1a" textLength="19.52" lengthAdjust="spacingAndGlyphs" >0.0</text>
<line x1="83.40" y1="800.5" x2="83.40" y2="796.20" stroke="#2a2a2a" stroke-width="0.95"/>
<text x="83.10" y="814.60" font-size="13" text-anchor="middle" fill="#1a1a1a" textLength="19.52" lengthAdjust="spacingAndGlyphs" >0.5</text>
<line x1="112.00" y1="800.5" x2="112.00" y2="796.20" stroke="#2a2a2a" stroke-width="0.95"/>
<text x="111.70" y="814.60" font-size="13" text-anchor="middle" fill="#1a1a1a" textLength="19.52" lengthAdjust="spacingAndGlyphs" >1.0</text>
<line x1="140.60" y1="800.5" x2="140.60" y2="796.20" stroke="#2a2a2a" stroke-width="0.95"/>
<text x="140.30" y="814.60" font-size="13" text-anchor="middle" fill="#1a1a1a" textLength="19.52" lengthAdjust="spacingAndGlyphs" >1.5</text>
<line x1="169.20" y1="800.5" x2="169.20" y2="796.20" stroke="#2a2a2a" stroke-width="0.95"/>
<text x="168.90" y="814.60" font-size="13" text-anchor="middle" fill="#1a1a1a" textLength="19.52" lengthAdjust="spacingAndGlyphs" >2.0</text>
<line x1="197.80" y1="800.5" x2="197.80" y2="796.20" stroke="#2a2a2a" stroke-width="0.95"/>
<text x="197.50" y="814.60" font-size="13" text-anchor="middle" fill="#1a1a1a" textLength="19.52" lengthAdjust="spacingAndGlyphs" >2.5</text>
<line x1="226.40" y1="800.5" x2="226.40" y2="796.20" stroke="#2a2a2a" stroke-width="0.95"/>
<text x="226.10" y="814.60" font-size="13" text-anchor="middle" fill="#1a1a1a" textLength="19.52" lengthAdjust="spacingAndGlyphs" >3.0</text>
<line x1="255.00" y1="800.5" x2="255.00" y2="796.20" stroke="#2a2a2a" stroke-width="0.95"/>
<text x="254.70" y="814.60" font-size="13" text-anchor="middle" fill="#1a1a1a" textLength="19.52" lengthAdjust="spacingAndGlyphs" >3.5</text>
<line x1="283.60" y1="800.5" x2="283.60" y2="796.20" stroke="#2a2a2a" stroke-width="0.95"/>
<text x="283.30" y="814.60" font-size="13" text-anchor="middle" fill="#1a1a1a" textLength="19.52" lengthAdjust="spacingAndGlyphs" >4.0</text>
<line x1="312.20" y1="800.5" x2="312.20" y2="796.20" stroke="#2a2a2a" stroke-width="0.95"/>
<text x="311.90" y="814.60" font-size="13" text-anchor="middle" fill="#1a1a1a" textLength="19.52" lengthAdjust="spacingAndGlyphs" >4.5</text>
<line x1="69.10" y1="800.5" x2="69.10" y2="798.20" stroke="#2a2a2a" stroke-width="0.95"/>
<line x1="97.70" y1="800.5" x2="97.70" y2="798.20" stroke="#2a2a2a" stroke-width="0.95"/>
<line x1="126.30" y1="800.5" x2="126.30" y2="798.20" stroke="#2a2a2a" stroke-width="0.95"/>
<line x1="154.90" y1="800.5" x2="154.90" y2="798.20" stroke="#2a2a2a" stroke-width="0.95"/>
<line x1="183.50" y1="800.5" x2="183.50" y2="798.20" stroke="#2a2a2a" stroke-width="0.95"/>
<line x1="212.10" y1="800.5" x2="212.10" y2="798.20" stroke="#2a2a2a" stroke-width="0.95"/>
<line x1="240.70" y1="800.5" x2="240.70" y2="798.20" stroke="#2a2a2a" stroke-width="0.95"/>
<line x1="269.30" y1="800.5" x2="269.30" y2="798.20" stroke="#2a2a2a" stroke-width="0.95"/>
<line x1="297.90" y1="800.5" x2="297.90" y2="798.20" stroke="#2a2a2a" stroke-width="0.95"/>
<line x1="390.50" y1="516.5" x2="390.50" y2="512.20" stroke="#2a2a2a" stroke-width="0.95"/>
<text x="390.20" y="530.60" font-size="13" text-anchor="middle" fill="#1a1a1a" textLength="19.52" lengthAdjust="spacingAndGlyphs" >0.0</text>
<line x1="431.36" y1="516.5" x2="431.36" y2="512.20" stroke="#2a2a2a" stroke-width="0.95"/>
<text x="431.06" y="530.60" font-size="13" text-anchor="middle" fill="#1a1a1a" textLength="19.52" lengthAdjust="spacingAndGlyphs" >0.5</text>
<line x1="472.21" y1="516.5" x2="472.21" y2="512.20" stroke="#2a2a2a" stroke-width="0.95"/>
<text x="471.91" y="530.60" font-size="13" text-anchor="middle" fill="#1a1a1a" textLength="19.52" lengthAdjust="spacingAndGlyphs" >1.0</text>
<line x1="513.07" y1="516.5" x2="513.07" y2="512.20" stroke="#2a2a2a" stroke-width="0.95"/>
<text x="512.77" y="530.60" font-size="13" text-anchor="middle" fill="#1a1a1a" textLength="19.52" lengthAdjust="spacingAndGlyphs" >1.5</text>
<line x1="553.93" y1="516.5" x2="553.93" y2="512.20" stroke="#2a2a2a" stroke-width="0.95"/>
<text x="553.63" y="530.60" font-size="13" text-anchor="middle" fill="#1a1a1a" textLength="19.52" lengthAdjust="spacingAndGlyphs" >2.0</text>
<line x1="594.79" y1="516.5" x2="594.79" y2="512.20" stroke="#2a2a2a" stroke-width="0.95"/>
<text x="594.49" y="530.60" font-size="13" text-anchor="middle" fill="#1a1a1a" textLength="19.52" lengthAdjust="spacingAndGlyphs" >2.5</text>
<line x1="635.64" y1="516.5" x2="635.64" y2="512.20" stroke="#2a2a2a" stroke-width="0.95"/>
<text x="635.34" y="530.60" font-size="13" text-anchor="middle" fill="#1a1a1a" textLength="19.52" lengthAdjust="spacingAndGlyphs" >3.0</text>
<line x1="676.50" y1="516.5" x2="676.50" y2="512.20" stroke="#2a2a2a" stroke-width="0.95"/>
<text x="676.20" y="530.60" font-size="13" text-anchor="middle" fill="#1a1a1a" textLength="19.52" lengthAdjust="spacingAndGlyphs" >3.5</text>
<line x1="410.93" y1="516.5" x2="410.93" y2="514.20" stroke="#2a2a2a" stroke-width="0.95"/>
<line x1="451.79" y1="516.5" x2="451.79" y2="514.20" stroke="#2a2a2a" stroke-width="0.95"/>
<line x1="492.64" y1="516.5" x2="492.64" y2="514.20" stroke="#2a2a2a" stroke-width="0.95"/>
<line x1="533.50" y1="516.5" x2="533.50" y2="514.20" stroke="#2a2a2a" stroke-width="0.95"/>
<line x1="574.36" y1="516.5" x2="574.36" y2="514.20" stroke="#2a2a2a" stroke-width="0.95"/>
<line x1="615.21" y1="516.5" x2="615.21" y2="514.20" stroke="#2a2a2a" stroke-width="0.95"/>
<line x1="656.07" y1="516.5" x2="656.07" y2="514.20" stroke="#2a2a2a" stroke-width="0.95"/>
<line x1="390.50" y1="800.5" x2="390.50" y2="796.20" stroke="#2a2a2a" stroke-width="0.95"/>
<text x="390.20" y="814.60" font-size="13" text-anchor="middle" fill="#1a1a1a" textLength="19.52" lengthAdjust="spacingAndGlyphs" >0.0</text>
<line x1="431.36" y1="800.5" x2="431.36" y2="796.20" stroke="#2a2a2a" stroke-width="0.95"/>
<text x="431.06" y="814.60" font-size="13" text-anchor="middle" fill="#1a1a1a" textLength="19.52" lengthAdjust="spacingAndGlyphs" >0.5</text>
<line x1="472.21" y1="800.5" x2="472.21" y2="796.20" stroke="#2a2a2a" stroke-width="0.95"/>
<text x="471.91" y="814.60" font-size="13" text-anchor="middle" fill="#1a1a1a" textLength="19.52" lengthAdjust="spacingAndGlyphs" >1.0</text>
<line x1="513.07" y1="800.5" x2="513.07" y2="796.20" stroke="#2a2a2a" stroke-width="0.95"/>
<text x="512.77" y="814.60" font-size="13" text-anchor="middle" fill="#1a1a1a" textLength="19.52" lengthAdjust="spacingAndGlyphs" >1.5</text>
<line x1="553.93" y1="800.5" x2="553.93" y2="796.20" stroke="#2a2a2a" stroke-width="0.95"/>
<text x="553.63" y="814.60" font-size="13" text-anchor="middle" fill="#1a1a1a" textLength="19.52" lengthAdjust="spacingAndGlyphs" >2.0</text>
<line x1="594.79" y1="800.5" x2="594.79" y2="796.20" stroke="#2a2a2a" stroke-width="0.95"/>
<text x="594.49" y="814.60" font-size="13" text-anchor="middle" fill="#1a1a1a" textLength="19.52" lengthAdjust="spacingAndGlyphs" >2.5</text>
<line x1="635.64" y1="800.5" x2="635.64" y2="796.20" stroke="#2a2a2a" stroke-width="0.95"/>
<text x="635.34" y="814.60" font-size="13" text-anchor="middle" fill="#1a1a1a" textLength="19.52" lengthAdjust="spacingAndGlyphs" >3.0</text>
<line x1="676.50" y1="800.5" x2="676.50" y2="796.20" stroke="#2a2a2a" stroke-width="0.95"/>
<text x="676.20" y="814.60" font-size="13" text-anchor="middle" fill="#1a1a1a" textLength="19.52" lengthAdjust="spacingAndGlyphs" >3.5</text>
<line x1="410.93" y1="800.5" x2="410.93" y2="798.20" stroke="#2a2a2a" stroke-width="0.95"/>
<line x1="451.79" y1="800.5" x2="451.79" y2="798.20" stroke="#2a2a2a" stroke-width="0.95"/>
<line x1="492.64" y1="800.5" x2="492.64" y2="798.20" stroke="#2a2a2a" stroke-width="0.95"/>
<line x1="533.50" y1="800.5" x2="533.50" y2="798.20" stroke="#2a2a2a" stroke-width="0.95"/>
<line x1="574.36" y1="800.5" x2="574.36" y2="798.20" stroke="#2a2a2a" stroke-width="0.95"/>
<line x1="615.21" y1="800.5" x2="615.21" y2="798.20" stroke="#2a2a2a" stroke-width="0.95"/>
<line x1="656.07" y1="800.5" x2="656.07" y2="798.20" stroke="#2a2a2a" stroke-width="0.95"/>
<text transform="translate(9.80,400.10) rotate(-90)" font-size="13" text-anchor="middle" fill="#1a1a1a" textLength="93.5" lengthAdjust="spacingAndGlyphs">La<tspan font-size="7.54" dy="2.6">2</tspan><tspan dy="-2.6">O</tspan><tspan font-size="7.54" dy="2.6">3</tspan><tspan dy="-2.6" dx="1.3">in apatite</tspan></text>
<text transform="translate(360.00,400.00) rotate(-90)" font-size="13" text-anchor="middle" fill="#1a1a1a" textLength="93.5" lengthAdjust="spacingAndGlyphs">La<tspan font-size="7.54" dy="2.6">2</tspan><tspan dy="-2.6">O</tspan><tspan font-size="7.54" dy="2.6">3</tspan><tspan dy="-2.6" dx="1.3">in apatite</tspan></text>
<text transform="translate(9.80,683.50) rotate(-90)" font-size="13" text-anchor="middle" fill="#1a1a1a" textLength="93" lengthAdjust="spacingAndGlyphs">Dy<tspan font-size="7.54" dy="2.6">2</tspan><tspan dy="-2.6">O</tspan><tspan font-size="7.54" dy="2.6">3</tspan><tspan dy="-2.6" dx="1.3">in apatite</tspan></text>
<text transform="translate(360.00,684.50) rotate(-90)" font-size="13" text-anchor="middle" fill="#1a1a1a" textLength="93" lengthAdjust="spacingAndGlyphs">Dy<tspan font-size="7.54" dy="2.6">2</tspan><tspan dy="-2.6">O</tspan><tspan font-size="7.54" dy="2.6">3</tspan><tspan dy="-2.6" dx="1.3">in apatite</tspan></text>
<text x="182.40" y="548.40" font-size="13" text-anchor="middle" fill="#1a1a1a" textLength="85.5" lengthAdjust="spacingAndGlyphs">SiO<tspan font-size="7.54" dy="2.6">2</tspan><tspan dy="-2.6" dx="1.6">in apatite</tspan></text>
<text x="533.00" y="548.40" font-size="13" text-anchor="middle" fill="#1a1a1a" textLength="93.5" lengthAdjust="spacingAndGlyphs">Na<tspan font-size="7.54" dy="2.6">2</tspan><tspan dy="-2.6" dx="0">O in apatite</tspan></text>
<text x="182.40" y="832.40" font-size="13" text-anchor="middle" fill="#1a1a1a" textLength="85.5" lengthAdjust="spacingAndGlyphs">SiO<tspan font-size="7.54" dy="2.6">2</tspan><tspan dy="-2.6" dx="1.6">in apatite</tspan></text>
<text x="533.00" y="832.40" font-size="13" text-anchor="middle" fill="#1a1a1a" textLength="93.5" lengthAdjust="spacingAndGlyphs">Na<tspan font-size="7.54" dy="2.6">2</tspan><tspan dy="-2.6" dx="0">O in apatite</tspan></text>
</svg></body></html>
